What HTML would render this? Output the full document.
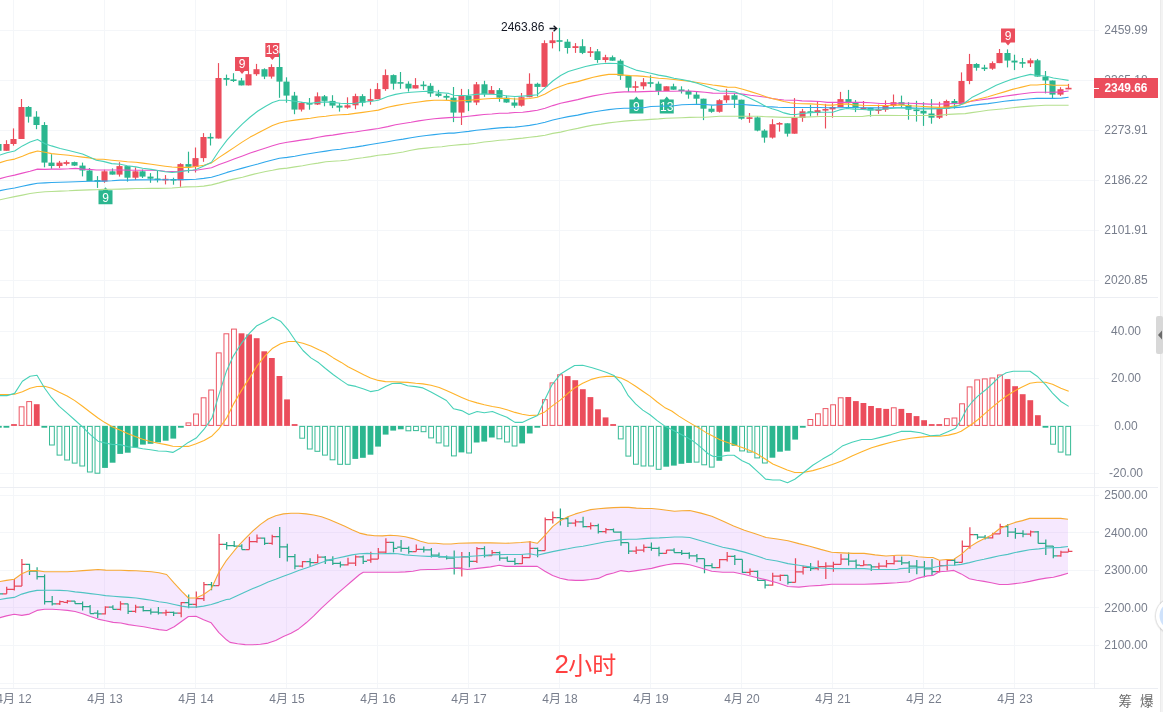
<!DOCTYPE html>
<html lang="zh"><head><meta charset="utf-8"><title>chart</title>
<style>html,body{margin:0;padding:0;background:#fff;overflow:hidden}body{width:1163px;height:712px}</style></head>
<body>
<svg width="1163" height="712" viewBox="0 0 1163 712" style="display:block">
<rect width="1163" height="712" fill="#fff"/>
<g shape-rendering="crispEdges" fill="#f4f6f9">
<rect x="13" y="0" width="1" height="688"/>
<rect x="104" y="0" width="1" height="688"/>
<rect x="195" y="0" width="1" height="688"/>
<rect x="286" y="0" width="1" height="688"/>
<rect x="377" y="0" width="1" height="688"/>
<rect x="468" y="0" width="1" height="688"/>
<rect x="559" y="0" width="1" height="688"/>
<rect x="650" y="0" width="1" height="688"/>
<rect x="741" y="0" width="1" height="688"/>
<rect x="832" y="0" width="1" height="688"/>
<rect x="923" y="0" width="1" height="688"/>
<rect x="1014" y="0" width="1" height="688"/>
<rect x="0" y="30" width="1099" height="1"/>
<rect x="0" y="80" width="1099" height="1"/>
<rect x="0" y="130" width="1099" height="1"/>
<rect x="0" y="180" width="1099" height="1"/>
<rect x="0" y="230" width="1099" height="1"/>
<rect x="0" y="280" width="1099" height="1"/>
<rect x="0" y="331" width="1099" height="1"/>
<rect x="0" y="378" width="1099" height="1"/>
<rect x="0" y="425" width="1099" height="1"/>
<rect x="0" y="473" width="1099" height="1"/>
<rect x="0" y="495" width="1099" height="1"/>
<rect x="0" y="532" width="1099" height="1"/>
<rect x="0" y="570" width="1099" height="1"/>
<rect x="0" y="607" width="1099" height="1"/>
<rect x="0" y="645" width="1099" height="1"/>
<rect x="0" y="683" width="1099" height="1"/>
</g>
<clipPath id="cp"><rect x="0" y="0" width="1094" height="688"/></clipPath>
<g clip-path="url(#cp)">
<polygon points="-2.0,582.0 0.0,581.5 6.5,580.4 14.2,579.3 21.8,573.8 29.4,570.6 37.0,570.6 44.6,571.7 52.3,571.7 59.9,571.7 67.5,571.7 75.1,571.2 82.8,570.6 90.4,570.1 98.0,569.5 105.6,570.1 113.2,570.3 120.9,570.3 128.5,570.6 136.1,570.8 143.7,571.2 151.4,571.7 159.0,572.7 166.6,574.5 174.2,583.2 181.8,591.3 188.4,598.0 196.0,598.0 203.6,594.5 211.2,589.1 218.9,572.3 226.5,560.3 230.0,556.0 237.6,546.6 245.2,538.6 252.9,530.9 260.5,524.4 268.1,519.0 275.7,515.7 283.4,513.9 291.0,513.3 298.6,513.3 306.2,513.9 313.8,515.0 321.5,516.8 329.1,519.4 336.7,522.7 344.3,526.1 352.0,529.8 359.6,533.1 367.2,534.9 374.8,535.7 382.4,535.9 390.1,535.3 397.7,535.7 405.3,536.8 412.9,538.6 420.5,541.2 428.2,543.3 435.8,543.3 443.4,544.0 451.0,544.0 458.7,543.3 475.2,542.9 490.5,542.9 505.7,543.3 521.0,542.5 529.7,541.8 537.3,543.3 544.9,535.3 552.6,526.6 560.2,520.7 567.8,516.8 575.4,513.9 583.0,511.8 590.7,509.6 598.3,508.7 605.9,508.1 613.5,507.6 621.1,507.4 628.8,507.4 636.4,508.1 644.0,508.5 651.6,508.5 659.3,509.2 666.9,510.2 674.5,511.3 682.1,510.7 689.7,510.5 700.9,513.1 711.8,516.3 722.7,521.1 733.6,525.9 744.4,530.3 755.3,533.8 766.2,537.5 777.1,539.0 788.0,540.7 798.9,543.6 809.8,546.2 820.7,549.4 831.6,552.3 842.4,552.9 853.3,553.4 864.2,553.4 875.1,554.9 886.0,556.0 896.9,555.3 909.1,555.3 918.3,556.7 927.4,557.5 932.9,557.5 939.3,560.2 946.6,559.5 953.9,559.3 961.2,554.4 969.4,547.1 976.7,542.5 984.0,538.8 991.3,535.2 999.5,528.8 1007.8,525.1 1015.1,522.4 1022.4,520.6 1029.7,518.4 1038.8,518.4 1060.7,518.4 1068.0,519.3 1068.0,573.2 1060.7,575.4 1053.4,577.2 1046.1,578.1 1038.8,579.4 1029.7,581.4 1022.4,582.7 1015.1,583.6 1007.8,584.5 999.5,584.5 991.3,582.7 984.0,581.4 976.7,580.3 969.4,578.7 961.2,573.9 953.9,570.4 946.6,571.3 939.3,571.7 932.9,575.4 927.4,575.9 918.3,578.1 909.1,581.8 896.9,582.8 886.0,583.4 875.1,583.9 864.2,584.3 831.6,584.3 820.7,585.4 809.8,586.0 798.9,587.1 788.0,586.5 777.1,582.8 766.2,579.9 755.3,577.3 744.4,574.5 733.6,572.3 722.7,572.3 711.8,571.2 700.9,568.0 689.7,564.8 682.1,563.6 674.5,563.6 666.9,564.7 659.3,566.4 651.6,568.4 644.0,569.5 636.4,570.6 628.8,571.7 621.1,570.6 613.5,573.0 605.9,574.9 598.3,578.4 590.7,579.5 583.0,580.4 575.4,580.4 567.8,579.9 560.2,578.2 552.6,575.6 544.9,571.2 537.3,566.4 505.7,566.4 499.2,565.3 490.5,566.9 475.2,568.6 467.6,569.5 458.7,568.4 451.0,568.4 443.4,569.0 435.8,569.5 428.2,569.5 420.5,569.7 412.9,571.2 405.3,571.9 397.7,572.3 374.8,572.3 363.3,572.3 359.6,574.5 352.0,581.0 344.3,587.6 336.7,594.1 329.1,601.1 321.5,608.2 313.8,615.9 306.2,622.8 298.6,628.9 291.0,633.3 283.4,636.6 275.7,640.5 268.1,643.1 260.5,644.2 252.9,644.8 245.2,644.6 237.6,643.7 230.0,642.4 226.5,639.8 218.9,632.6 211.2,622.8 203.6,619.8 196.0,616.3 188.4,616.5 181.8,621.3 174.2,626.8 166.6,630.5 159.0,629.6 151.4,628.3 143.7,626.8 136.1,625.7 128.5,624.6 120.9,623.0 113.2,622.4 105.6,620.7 98.0,619.1 90.4,616.5 82.8,613.7 75.1,611.5 67.5,610.4 59.9,609.8 52.3,609.3 44.6,609.3 37.0,610.4 29.4,614.1 21.8,615.4 14.2,614.3 6.5,615.9 0.0,617.6 -2.0,618.0" fill="#d28cfa" fill-opacity="0.2"/>
<g font-family="'Liberation Sans',sans-serif">
<path d="M98.5104,204.2h14v-14h-4.5l-2.5,-3l-2.5,3h-4.5z" fill="#2bb68f"/>
<text x="105.5104" y="201.5" font-size="12.5" fill="#fff" text-anchor="middle" textLength="6.7" lengthAdjust="spacingAndGlyphs">9</text>
<path d="M235.026,57h14v14h-4.5l-2.5,3l-2.5,-3h-4.5z" fill="#eb4d5c"/>
<text x="242.026" y="68.3" font-size="12.5" fill="#fff" text-anchor="middle" textLength="6.7" lengthAdjust="spacingAndGlyphs">9</text>
<path d="M265.3628,43h14v14h-4.5l-2.5,3l-2.5,-3h-4.5z" fill="#eb4d5c"/>
<text x="272.3628" y="54.3" font-size="12.5" fill="#fff" text-anchor="middle" textLength="13.4" lengthAdjust="spacingAndGlyphs">13</text>
<path d="M629.4044,113.6h14v-14h-4.5l-2.5,-3l-2.5,3h-4.5z" fill="#2bb68f"/>
<text x="636.4044" y="110.9" font-size="12.5" fill="#fff" text-anchor="middle" textLength="6.7" lengthAdjust="spacingAndGlyphs">9</text>
<path d="M659.7412,113.6h14v-14h-4.5l-2.5,-3l-2.5,3h-4.5z" fill="#2bb68f"/>
<text x="666.7412" y="110.9" font-size="12.5" fill="#fff" text-anchor="middle" textLength="13.4" lengthAdjust="spacingAndGlyphs">13</text>
<path d="M1001.0302,28.5h14v14h-4.5l-2.5,3l-2.5,-3h-4.5z" fill="#eb4d5c"/>
<text x="1008.0302" y="39.8" font-size="12.5" fill="#fff" text-anchor="middle" textLength="6.7" lengthAdjust="spacingAndGlyphs">9</text>
</g>
<g>
<rect x="-2.08" y="143.0" width="1.16" height="9.0" fill="#2bb68f"/>
<rect x="-4.55" y="144.0" width="6.1" height="6.8" fill="#2bb68f"/>
<rect x="5.92" y="140.2" width="1.16" height="10.6" fill="#eb4d5c"/>
<rect x="3.45" y="144.0" width="6.1" height="6.8" fill="#eb4d5c"/>
<rect x="12.92" y="128.4" width="1.16" height="17.3" fill="#eb4d5c"/>
<rect x="10.45" y="139.0" width="6.1" height="5.0" fill="#eb4d5c"/>
<rect x="20.92" y="99.0" width="1.16" height="40.0" fill="#eb4d5c"/>
<rect x="18.45" y="107.0" width="6.1" height="32.0" fill="#eb4d5c"/>
<rect x="27.92" y="106.1" width="1.16" height="16.5" fill="#2bb68f"/>
<rect x="25.45" y="107.0" width="6.1" height="9.7" fill="#2bb68f"/>
<rect x="35.92" y="111.2" width="1.16" height="18.0" fill="#2bb68f"/>
<rect x="33.45" y="116.7" width="6.1" height="8.3" fill="#2bb68f"/>
<rect x="43.92" y="122.1" width="1.16" height="45.2" fill="#2bb68f"/>
<rect x="41.45" y="125.0" width="6.1" height="37.6" fill="#2bb68f"/>
<rect x="50.92" y="154.2" width="1.16" height="14.6" fill="#2bb68f"/>
<rect x="48.45" y="162.6" width="6.1" height="3.4" fill="#2bb68f"/>
<rect x="58.92" y="160.9" width="1.16" height="7.1" fill="#eb4d5c"/>
<rect x="56.45" y="162.6" width="6.1" height="3.4" fill="#eb4d5c"/>
<rect x="65.92" y="160.4" width="1.16" height="5.1" fill="#eb4d5c"/>
<rect x="63.45" y="162.1" width="6.1" height="1.8" fill="#eb4d5c"/>
<rect x="73.92" y="161.6" width="1.16" height="4.4" fill="#2bb68f"/>
<rect x="71.45" y="162.1" width="6.1" height="3.5" fill="#2bb68f"/>
<rect x="81.92" y="162.6" width="1.16" height="13.8" fill="#2bb68f"/>
<rect x="79.45" y="165.6" width="6.1" height="4.9" fill="#2bb68f"/>
<rect x="88.92" y="168.0" width="1.16" height="13.1" fill="#2bb68f"/>
<rect x="86.45" y="170.5" width="6.1" height="10.6" fill="#2bb68f"/>
<rect x="96.92" y="176.1" width="1.16" height="11.8" fill="#2bb68f"/>
<rect x="94.45" y="180.1" width="6.1" height="1.6" fill="#2bb68f"/>
<rect x="103.92" y="169.7" width="1.16" height="13.1" fill="#eb4d5c"/>
<rect x="101.45" y="171.3" width="6.1" height="10.2" fill="#eb4d5c"/>
<rect x="111.92" y="168.4" width="1.16" height="6.2" fill="#2bb68f"/>
<rect x="109.45" y="171.3" width="6.1" height="3.3" fill="#2bb68f"/>
<rect x="118.92" y="162.2" width="1.16" height="14.4" fill="#eb4d5c"/>
<rect x="116.45" y="166.1" width="6.1" height="8.5" fill="#eb4d5c"/>
<rect x="126.92" y="166.1" width="1.16" height="15.5" fill="#2bb68f"/>
<rect x="124.45" y="166.1" width="6.1" height="11.6" fill="#2bb68f"/>
<rect x="134.92" y="167.4" width="1.16" height="12.6" fill="#eb4d5c"/>
<rect x="132.45" y="171.3" width="6.1" height="6.4" fill="#eb4d5c"/>
<rect x="141.92" y="169.4" width="1.16" height="8.6" fill="#2bb68f"/>
<rect x="139.45" y="171.3" width="6.1" height="5.3" fill="#2bb68f"/>
<rect x="149.92" y="173.1" width="1.16" height="9.7" fill="#2bb68f"/>
<rect x="147.45" y="176.6" width="6.1" height="2.1" fill="#2bb68f"/>
<rect x="156.92" y="170.8" width="1.16" height="11.6" fill="#2bb68f"/>
<rect x="154.45" y="178.5" width="6.1" height="1.6" fill="#2bb68f"/>
<rect x="164.92" y="175.1" width="1.16" height="9.3" fill="#eb4d5c"/>
<rect x="162.45" y="178.8" width="6.1" height="1.6" fill="#eb4d5c"/>
<rect x="172.92" y="177.7" width="1.16" height="7.0" fill="#2bb68f"/>
<rect x="170.45" y="179.0" width="6.1" height="1.6" fill="#2bb68f"/>
<rect x="179.92" y="163.2" width="1.16" height="23.6" fill="#eb4d5c"/>
<rect x="177.45" y="164.1" width="6.1" height="16.2" fill="#eb4d5c"/>
<rect x="187.92" y="151.7" width="1.16" height="21.1" fill="#2bb68f"/>
<rect x="185.45" y="164.1" width="6.1" height="2.7" fill="#2bb68f"/>
<rect x="194.92" y="147.5" width="1.16" height="25.0" fill="#eb4d5c"/>
<rect x="192.45" y="158.1" width="6.1" height="8.7" fill="#eb4d5c"/>
<rect x="202.92" y="133.1" width="1.16" height="28.7" fill="#eb4d5c"/>
<rect x="200.45" y="137.0" width="6.1" height="21.1" fill="#eb4d5c"/>
<rect x="209.92" y="133.2" width="1.16" height="12.3" fill="#2bb68f"/>
<rect x="207.45" y="136.9" width="6.1" height="1.6" fill="#2bb68f"/>
<rect x="217.92" y="63.1" width="1.16" height="75.4" fill="#eb4d5c"/>
<rect x="215.45" y="78.0" width="6.1" height="60.5" fill="#eb4d5c"/>
<rect x="225.92" y="74.6" width="1.16" height="11.1" fill="#2bb68f"/>
<rect x="223.45" y="78.0" width="6.1" height="1.8" fill="#2bb68f"/>
<rect x="232.92" y="73.2" width="1.16" height="8.8" fill="#2bb68f"/>
<rect x="230.45" y="79.4" width="6.1" height="1.6" fill="#2bb68f"/>
<rect x="240.92" y="77.9" width="1.16" height="7.5" fill="#2bb68f"/>
<rect x="238.45" y="80.5" width="6.1" height="4.9" fill="#2bb68f"/>
<rect x="247.92" y="67.3" width="1.16" height="18.1" fill="#eb4d5c"/>
<rect x="245.45" y="74.2" width="6.1" height="11.2" fill="#eb4d5c"/>
<rect x="255.92" y="63.9" width="1.16" height="11.9" fill="#eb4d5c"/>
<rect x="253.45" y="69.2" width="6.1" height="5.0" fill="#eb4d5c"/>
<rect x="263.92" y="68.3" width="1.16" height="10.8" fill="#2bb68f"/>
<rect x="261.45" y="69.2" width="6.1" height="7.4" fill="#2bb68f"/>
<rect x="270.92" y="64.3" width="1.16" height="14.3" fill="#eb4d5c"/>
<rect x="268.45" y="67.0" width="6.1" height="9.6" fill="#eb4d5c"/>
<rect x="278.92" y="53.3" width="1.16" height="44.5" fill="#2bb68f"/>
<rect x="276.45" y="67.0" width="6.1" height="14.6" fill="#2bb68f"/>
<rect x="285.92" y="77.3" width="1.16" height="25.4" fill="#2bb68f"/>
<rect x="283.45" y="81.6" width="6.1" height="14.0" fill="#2bb68f"/>
<rect x="293.92" y="91.9" width="1.16" height="22.3" fill="#2bb68f"/>
<rect x="291.45" y="95.6" width="6.1" height="14.0" fill="#2bb68f"/>
<rect x="300.92" y="102.0" width="1.16" height="9.5" fill="#eb4d5c"/>
<rect x="298.45" y="103.0" width="6.1" height="6.6" fill="#eb4d5c"/>
<rect x="308.92" y="98.0" width="1.16" height="11.7" fill="#2bb68f"/>
<rect x="306.45" y="103.0" width="6.1" height="1.6" fill="#2bb68f"/>
<rect x="316.92" y="92.4" width="1.16" height="12.6" fill="#eb4d5c"/>
<rect x="314.45" y="96.3" width="6.1" height="8.2" fill="#eb4d5c"/>
<rect x="323.92" y="95.0" width="1.16" height="11.3" fill="#2bb68f"/>
<rect x="321.45" y="96.3" width="6.1" height="4.6" fill="#2bb68f"/>
<rect x="331.92" y="95.2" width="1.16" height="12.9" fill="#2bb68f"/>
<rect x="329.45" y="100.9" width="6.1" height="4.7" fill="#2bb68f"/>
<rect x="338.92" y="103.0" width="1.16" height="8.6" fill="#2bb68f"/>
<rect x="336.45" y="105.6" width="6.1" height="2.0" fill="#2bb68f"/>
<rect x="346.92" y="97.3" width="1.16" height="11.4" fill="#eb4d5c"/>
<rect x="344.45" y="105.3" width="6.1" height="2.3" fill="#eb4d5c"/>
<rect x="354.92" y="93.7" width="1.16" height="15.5" fill="#eb4d5c"/>
<rect x="352.45" y="96.1" width="6.1" height="9.2" fill="#eb4d5c"/>
<rect x="361.92" y="94.2" width="1.16" height="12.2" fill="#2bb68f"/>
<rect x="359.45" y="96.1" width="6.1" height="6.6" fill="#2bb68f"/>
<rect x="369.92" y="88.8" width="1.16" height="15.9" fill="#eb4d5c"/>
<rect x="367.45" y="99.2" width="6.1" height="1.7" fill="#eb4d5c"/>
<rect x="376.92" y="83.1" width="1.16" height="16.1" fill="#eb4d5c"/>
<rect x="374.45" y="89.1" width="6.1" height="10.1" fill="#eb4d5c"/>
<rect x="384.92" y="69.4" width="1.16" height="21.4" fill="#eb4d5c"/>
<rect x="382.45" y="75.1" width="6.1" height="14.0" fill="#eb4d5c"/>
<rect x="392.92" y="74.4" width="1.16" height="15.2" fill="#2bb68f"/>
<rect x="390.45" y="75.1" width="6.1" height="8.6" fill="#2bb68f"/>
<rect x="399.92" y="72.0" width="1.16" height="16.8" fill="#2bb68f"/>
<rect x="397.45" y="82.1" width="6.1" height="1.6" fill="#2bb68f"/>
<rect x="407.92" y="81.3" width="1.16" height="10.3" fill="#2bb68f"/>
<rect x="405.45" y="83.7" width="6.1" height="4.8" fill="#2bb68f"/>
<rect x="414.92" y="78.1" width="1.16" height="10.4" fill="#eb4d5c"/>
<rect x="412.45" y="85.1" width="6.1" height="3.4" fill="#eb4d5c"/>
<rect x="422.92" y="81.2" width="1.16" height="8.7" fill="#2bb68f"/>
<rect x="420.45" y="84.6" width="6.1" height="1.6" fill="#2bb68f"/>
<rect x="429.92" y="83.2" width="1.16" height="13.6" fill="#2bb68f"/>
<rect x="427.45" y="85.8" width="6.1" height="7.7" fill="#2bb68f"/>
<rect x="437.92" y="89.9" width="1.16" height="7.3" fill="#2bb68f"/>
<rect x="435.45" y="93.5" width="6.1" height="2.4" fill="#2bb68f"/>
<rect x="445.92" y="94.1" width="1.16" height="5.9" fill="#2bb68f"/>
<rect x="443.45" y="95.9" width="6.1" height="1.8" fill="#2bb68f"/>
<rect x="452.92" y="87.0" width="1.16" height="35.1" fill="#2bb68f"/>
<rect x="450.45" y="97.7" width="6.1" height="14.9" fill="#2bb68f"/>
<rect x="460.92" y="88.9" width="1.16" height="36.1" fill="#eb4d5c"/>
<rect x="458.45" y="95.9" width="6.1" height="16.7" fill="#eb4d5c"/>
<rect x="467.92" y="89.2" width="1.16" height="21.9" fill="#2bb68f"/>
<rect x="465.45" y="95.9" width="6.1" height="6.6" fill="#2bb68f"/>
<rect x="475.92" y="82.0" width="1.16" height="23.1" fill="#eb4d5c"/>
<rect x="473.45" y="84.3" width="6.1" height="18.2" fill="#eb4d5c"/>
<rect x="483.92" y="80.8" width="1.16" height="16.0" fill="#2bb68f"/>
<rect x="481.45" y="84.3" width="6.1" height="9.8" fill="#2bb68f"/>
<rect x="490.92" y="86.0" width="1.16" height="8.1" fill="#eb4d5c"/>
<rect x="488.45" y="90.1" width="6.1" height="4.0" fill="#eb4d5c"/>
<rect x="498.92" y="88.1" width="1.16" height="13.7" fill="#2bb68f"/>
<rect x="496.45" y="90.1" width="6.1" height="7.6" fill="#2bb68f"/>
<rect x="505.92" y="95.6" width="1.16" height="7.2" fill="#2bb68f"/>
<rect x="503.45" y="97.7" width="6.1" height="4.8" fill="#2bb68f"/>
<rect x="513.92" y="97.7" width="1.16" height="10.1" fill="#2bb68f"/>
<rect x="511.45" y="102.5" width="6.1" height="3.2" fill="#2bb68f"/>
<rect x="520.92" y="93.0" width="1.16" height="13.6" fill="#eb4d5c"/>
<rect x="518.45" y="97.2" width="6.1" height="8.5" fill="#eb4d5c"/>
<rect x="528.92" y="73.3" width="1.16" height="23.9" fill="#eb4d5c"/>
<rect x="526.45" y="83.8" width="6.1" height="13.4" fill="#eb4d5c"/>
<rect x="536.92" y="82.7" width="1.16" height="13.8" fill="#2bb68f"/>
<rect x="534.45" y="83.8" width="6.1" height="3.1" fill="#2bb68f"/>
<rect x="543.92" y="40.3" width="1.16" height="46.6" fill="#eb4d5c"/>
<rect x="541.45" y="43.1" width="6.1" height="43.8" fill="#eb4d5c"/>
<rect x="551.92" y="31.9" width="1.16" height="16.5" fill="#eb4d5c"/>
<rect x="549.45" y="40.3" width="6.1" height="2.8" fill="#eb4d5c"/>
<rect x="558.92" y="27.9" width="1.16" height="23.4" fill="#2bb68f"/>
<rect x="556.45" y="40.2" width="6.1" height="1.6" fill="#2bb68f"/>
<rect x="566.92" y="39.2" width="1.16" height="14.4" fill="#2bb68f"/>
<rect x="564.45" y="41.7" width="6.1" height="6.3" fill="#2bb68f"/>
<rect x="574.92" y="43.1" width="1.16" height="9.8" fill="#eb4d5c"/>
<rect x="572.45" y="46.2" width="6.1" height="1.8" fill="#eb4d5c"/>
<rect x="581.92" y="39.2" width="1.16" height="14.9" fill="#2bb68f"/>
<rect x="579.45" y="46.2" width="6.1" height="6.7" fill="#2bb68f"/>
<rect x="589.92" y="47.0" width="1.16" height="9.9" fill="#eb4d5c"/>
<rect x="587.45" y="51.3" width="6.1" height="1.6" fill="#eb4d5c"/>
<rect x="596.92" y="49.0" width="1.16" height="13.8" fill="#2bb68f"/>
<rect x="594.45" y="51.3" width="6.1" height="8.7" fill="#2bb68f"/>
<rect x="604.92" y="54.8" width="1.16" height="7.7" fill="#eb4d5c"/>
<rect x="602.45" y="57.2" width="6.1" height="2.8" fill="#eb4d5c"/>
<rect x="611.92" y="55.5" width="1.16" height="5.2" fill="#2bb68f"/>
<rect x="609.45" y="57.2" width="6.1" height="3.5" fill="#2bb68f"/>
<rect x="619.92" y="59.3" width="1.16" height="20.6" fill="#2bb68f"/>
<rect x="617.45" y="60.7" width="6.1" height="15.0" fill="#2bb68f"/>
<rect x="627.92" y="75.7" width="1.16" height="16.3" fill="#2bb68f"/>
<rect x="625.45" y="75.7" width="6.1" height="12.0" fill="#2bb68f"/>
<rect x="634.92" y="81.2" width="1.16" height="10.6" fill="#eb4d5c"/>
<rect x="632.45" y="86.2" width="6.1" height="1.6" fill="#eb4d5c"/>
<rect x="642.92" y="78.1" width="1.16" height="11.3" fill="#eb4d5c"/>
<rect x="640.45" y="82.2" width="6.1" height="4.1" fill="#eb4d5c"/>
<rect x="649.92" y="75.3" width="1.16" height="12.0" fill="#2bb68f"/>
<rect x="647.45" y="82.2" width="6.1" height="1.6" fill="#2bb68f"/>
<rect x="657.92" y="81.5" width="1.16" height="13.6" fill="#2bb68f"/>
<rect x="655.45" y="83.7" width="6.1" height="7.3" fill="#2bb68f"/>
<rect x="665.92" y="86.3" width="1.16" height="4.7" fill="#eb4d5c"/>
<rect x="663.45" y="86.3" width="6.1" height="4.7" fill="#eb4d5c"/>
<rect x="672.92" y="83.7" width="1.16" height="6.0" fill="#2bb68f"/>
<rect x="670.45" y="86.3" width="6.1" height="3.4" fill="#2bb68f"/>
<rect x="680.92" y="86.3" width="1.16" height="7.2" fill="#2bb68f"/>
<rect x="678.45" y="89.5" width="6.1" height="1.6" fill="#2bb68f"/>
<rect x="687.92" y="89.4" width="1.16" height="9.3" fill="#2bb68f"/>
<rect x="685.45" y="91.0" width="6.1" height="3.6" fill="#2bb68f"/>
<rect x="695.92" y="91.8" width="1.16" height="12.1" fill="#2bb68f"/>
<rect x="693.45" y="94.6" width="6.1" height="4.1" fill="#2bb68f"/>
<rect x="702.92" y="98.7" width="1.16" height="21.4" fill="#2bb68f"/>
<rect x="700.45" y="98.7" width="6.1" height="10.0" fill="#2bb68f"/>
<rect x="710.92" y="105.4" width="1.16" height="7.4" fill="#2bb68f"/>
<rect x="708.45" y="108.7" width="6.1" height="3.1" fill="#2bb68f"/>
<rect x="718.92" y="99.2" width="1.16" height="13.4" fill="#eb4d5c"/>
<rect x="716.45" y="100.2" width="6.1" height="11.6" fill="#eb4d5c"/>
<rect x="725.92" y="88.9" width="1.16" height="13.9" fill="#eb4d5c"/>
<rect x="723.45" y="95.3" width="6.1" height="4.9" fill="#eb4d5c"/>
<rect x="733.92" y="93.5" width="1.16" height="14.5" fill="#2bb68f"/>
<rect x="731.45" y="95.3" width="6.1" height="4.4" fill="#2bb68f"/>
<rect x="740.92" y="99.7" width="1.16" height="20.0" fill="#2bb68f"/>
<rect x="738.45" y="99.7" width="6.1" height="19.0" fill="#2bb68f"/>
<rect x="748.92" y="113.0" width="1.16" height="9.8" fill="#eb4d5c"/>
<rect x="746.45" y="117.3" width="6.1" height="1.6" fill="#eb4d5c"/>
<rect x="756.92" y="116.1" width="1.16" height="15.2" fill="#2bb68f"/>
<rect x="754.45" y="117.4" width="6.1" height="13.2" fill="#2bb68f"/>
<rect x="763.92" y="129.3" width="1.16" height="13.4" fill="#2bb68f"/>
<rect x="761.45" y="130.6" width="6.1" height="7.0" fill="#2bb68f"/>
<rect x="771.92" y="119.2" width="1.16" height="19.4" fill="#eb4d5c"/>
<rect x="769.45" y="124.2" width="6.1" height="13.4" fill="#eb4d5c"/>
<rect x="778.92" y="122.1" width="1.16" height="9.5" fill="#eb4d5c"/>
<rect x="776.45" y="123.0" width="6.1" height="1.6" fill="#eb4d5c"/>
<rect x="786.92" y="123.3" width="1.16" height="13.3" fill="#2bb68f"/>
<rect x="784.45" y="123.3" width="6.1" height="10.4" fill="#2bb68f"/>
<rect x="793.92" y="98.1" width="1.16" height="35.6" fill="#eb4d5c"/>
<rect x="791.45" y="118.0" width="6.1" height="15.7" fill="#eb4d5c"/>
<rect x="801.92" y="108.9" width="1.16" height="12.9" fill="#eb4d5c"/>
<rect x="799.45" y="111.3" width="6.1" height="6.7" fill="#eb4d5c"/>
<rect x="809.92" y="104.8" width="1.16" height="11.8" fill="#2bb68f"/>
<rect x="807.45" y="111.3" width="6.1" height="1.7" fill="#2bb68f"/>
<rect x="816.92" y="101.2" width="1.16" height="14.4" fill="#eb4d5c"/>
<rect x="814.45" y="110.2" width="6.1" height="2.8" fill="#eb4d5c"/>
<rect x="824.92" y="103.9" width="1.16" height="24.6" fill="#eb4d5c"/>
<rect x="822.45" y="109.0" width="6.1" height="1.6" fill="#eb4d5c"/>
<rect x="831.92" y="103.2" width="1.16" height="14.5" fill="#eb4d5c"/>
<rect x="829.45" y="107.0" width="6.1" height="2.4" fill="#eb4d5c"/>
<rect x="839.92" y="91.9" width="1.16" height="15.1" fill="#eb4d5c"/>
<rect x="837.45" y="99.1" width="6.1" height="7.9" fill="#eb4d5c"/>
<rect x="847.92" y="89.9" width="1.16" height="18.9" fill="#2bb68f"/>
<rect x="845.45" y="99.1" width="6.1" height="3.3" fill="#2bb68f"/>
<rect x="854.92" y="100.1" width="1.16" height="12.0" fill="#2bb68f"/>
<rect x="852.45" y="102.4" width="6.1" height="5.8" fill="#2bb68f"/>
<rect x="862.92" y="101.0" width="1.16" height="8.0" fill="#eb4d5c"/>
<rect x="860.45" y="107.5" width="6.1" height="1.6" fill="#eb4d5c"/>
<rect x="869.92" y="107.7" width="1.16" height="8.9" fill="#2bb68f"/>
<rect x="867.45" y="107.7" width="6.1" height="2.8" fill="#2bb68f"/>
<rect x="877.92" y="104.6" width="1.16" height="9.3" fill="#eb4d5c"/>
<rect x="875.45" y="109.3" width="6.1" height="1.6" fill="#eb4d5c"/>
<rect x="884.92" y="100.4" width="1.16" height="11.4" fill="#eb4d5c"/>
<rect x="882.45" y="105.9" width="6.1" height="3.8" fill="#eb4d5c"/>
<rect x="892.92" y="94.5" width="1.16" height="12.7" fill="#eb4d5c"/>
<rect x="890.45" y="102.2" width="6.1" height="3.7" fill="#eb4d5c"/>
<rect x="900.92" y="95.6" width="1.16" height="12.1" fill="#2bb68f"/>
<rect x="898.45" y="102.2" width="6.1" height="2.7" fill="#2bb68f"/>
<rect x="907.92" y="102.2" width="1.16" height="17.5" fill="#2bb68f"/>
<rect x="905.45" y="104.9" width="6.1" height="4.8" fill="#2bb68f"/>
<rect x="915.92" y="100.8" width="1.16" height="20.8" fill="#2bb68f"/>
<rect x="913.45" y="109.5" width="6.1" height="1.6" fill="#2bb68f"/>
<rect x="922.92" y="102.2" width="1.16" height="23.7" fill="#2bb68f"/>
<rect x="920.45" y="110.8" width="6.1" height="2.7" fill="#2bb68f"/>
<rect x="930.92" y="99.1" width="1.16" height="24.6" fill="#2bb68f"/>
<rect x="928.45" y="113.5" width="6.1" height="4.2" fill="#2bb68f"/>
<rect x="938.92" y="101.8" width="1.16" height="17.2" fill="#eb4d5c"/>
<rect x="936.45" y="109.0" width="6.1" height="8.7" fill="#eb4d5c"/>
<rect x="945.92" y="99.7" width="1.16" height="16.2" fill="#eb4d5c"/>
<rect x="943.45" y="101.0" width="6.1" height="8.0" fill="#eb4d5c"/>
<rect x="953.92" y="99.0" width="1.16" height="9.6" fill="#2bb68f"/>
<rect x="951.45" y="101.0" width="6.1" height="3.1" fill="#2bb68f"/>
<rect x="960.92" y="72.4" width="1.16" height="31.7" fill="#eb4d5c"/>
<rect x="958.45" y="81.0" width="6.1" height="23.1" fill="#eb4d5c"/>
<rect x="968.92" y="53.9" width="1.16" height="30.3" fill="#eb4d5c"/>
<rect x="966.45" y="64.0" width="6.1" height="17.0" fill="#eb4d5c"/>
<rect x="975.92" y="63.1" width="1.16" height="7.6" fill="#2bb68f"/>
<rect x="973.45" y="64.0" width="6.1" height="3.8" fill="#2bb68f"/>
<rect x="983.92" y="64.8" width="1.16" height="6.2" fill="#2bb68f"/>
<rect x="981.45" y="67.5" width="6.1" height="1.6" fill="#2bb68f"/>
<rect x="991.92" y="61.4" width="1.16" height="8.4" fill="#eb4d5c"/>
<rect x="989.45" y="63.1" width="6.1" height="5.6" fill="#eb4d5c"/>
<rect x="998.92" y="49.0" width="1.16" height="14.1" fill="#eb4d5c"/>
<rect x="996.45" y="53.0" width="6.1" height="10.1" fill="#eb4d5c"/>
<rect x="1006.92" y="49.4" width="1.16" height="18.0" fill="#2bb68f"/>
<rect x="1004.45" y="53.0" width="6.1" height="7.6" fill="#2bb68f"/>
<rect x="1013.92" y="54.7" width="1.16" height="15.4" fill="#2bb68f"/>
<rect x="1011.45" y="60.6" width="6.1" height="1.9" fill="#2bb68f"/>
<rect x="1021.92" y="58.0" width="1.16" height="9.8" fill="#2bb68f"/>
<rect x="1019.45" y="62.1" width="6.1" height="1.6" fill="#2bb68f"/>
<rect x="1029.92" y="58.4" width="1.16" height="8.6" fill="#eb4d5c"/>
<rect x="1027.45" y="60.3" width="6.1" height="3.0" fill="#eb4d5c"/>
<rect x="1036.92" y="58.9" width="1.16" height="17.7" fill="#2bb68f"/>
<rect x="1034.45" y="60.3" width="6.1" height="16.3" fill="#2bb68f"/>
<rect x="1044.92" y="71.0" width="1.16" height="22.4" fill="#2bb68f"/>
<rect x="1042.45" y="76.6" width="6.1" height="3.9" fill="#2bb68f"/>
<rect x="1051.92" y="80.5" width="1.16" height="17.6" fill="#2bb68f"/>
<rect x="1049.45" y="80.5" width="6.1" height="14.1" fill="#2bb68f"/>
<rect x="1059.92" y="87.2" width="1.16" height="8.7" fill="#eb4d5c"/>
<rect x="1057.45" y="89.2" width="6.1" height="5.4" fill="#eb4d5c"/>
<rect x="1067.92" y="83.9" width="1.16" height="5.3" fill="#eb4d5c"/>
<rect x="1065.45" y="87.8" width="6.1" height="1.6" fill="#eb4d5c"/>
</g>
<polyline points="-2.0,200.1 0.0,199.7 6.9,198.3 14.6,196.6 22.4,195.1 30.1,193.5 37.5,192.5 45.1,191.8 51.6,191.5 60.2,191.1 68.8,190.8 75.7,190.4 82.5,190.1 89.4,189.9 96.3,189.7 103.2,189.4 111.8,189.2 120.4,189.1 127.0,188.9 136.0,188.5 143.0,188.5 151.0,188.4 158.0,188.4 165.0,188.2 172.0,188.0 178.8,187.5 185.7,186.9 196.0,186.7 203.8,186.1 211.5,184.9 219.2,182.9 227.0,180.6 234.7,178.9 242.5,177.2 250.2,175.1 257.9,173.2 265.7,171.5 272.5,170.3 279.4,168.9 287.2,168.1 294.9,166.9 302.6,165.7 310.4,164.3 318.1,163.1 325.9,161.7 332.7,161.2 340.5,160.8 348.2,160.0 355.1,158.8 362.8,157.8 370.6,156.6 378.3,155.2 387.7,154.4 395.5,153.2 403.2,152.0 411.0,150.3 418.7,148.9 426.4,148.1 434.2,147.2 441.9,146.7 448.8,145.8 453.9,145.3 460.8,144.6 468.6,144.1 476.3,143.2 484.0,142.0 491.8,141.2 499.5,140.3 507.3,139.8 515.0,138.9 522.7,138.1 529.6,137.2 537.4,136.4 545.1,135.2 552.8,133.4 560.6,132.1 568.3,130.3 577.7,128.4 585.5,126.6 593.2,125.1 601.0,124.1 608.7,122.9 616.4,122.0 624.2,121.1 630.2,120.6 637.1,120.3 643.9,119.9 650.8,119.4 658.6,118.9 666.3,118.2 674.0,118.0 681.8,117.7 689.5,117.4 697.3,117.2 705.0,117.2 712.7,116.8 719.6,116.3 758.3,116.3 766.0,116.7 772.0,116.9 784.0,117.4 796.0,117.4 802.0,117.1 810.6,116.9 820.2,116.5 862.3,116.5 868.3,115.6 880.4,115.3 899.8,115.5 929.2,115.5 939.0,115.2 948.8,114.4 958.6,113.9 965.2,113.6 971.7,112.6 979.9,111.5 988.0,110.3 996.2,109.5 1004.4,108.7 1012.5,107.7 1020.7,106.9 1030.5,106.1 1037.0,105.7 1045.2,105.3 1068.6,105.3" fill="none" stroke="#b5e08f" stroke-width="1.1" stroke-linejoin="round"/>
<polyline points="-2.0,191.0 0.0,190.6 6.9,189.2 14.6,188.0 22.4,186.3 30.1,184.6 37.5,183.2 45.1,182.9 51.6,182.5 60.2,182.3 68.8,182.0 75.7,181.7 82.5,181.5 89.4,181.3 96.3,181.1 103.2,181.1 111.8,180.8 120.4,180.1 127.0,180.1 136.0,179.9 172.0,179.8 178.8,179.8 185.7,179.6 196.0,179.3 203.8,178.4 211.5,177.2 219.2,175.0 227.0,172.4 234.7,170.3 242.5,168.1 250.2,166.0 257.9,164.0 265.7,161.7 272.5,160.0 279.4,158.3 287.2,157.4 294.9,156.2 302.6,154.8 310.4,153.5 318.1,152.3 325.9,151.1 332.7,150.0 340.5,149.2 348.2,148.0 355.1,147.1 362.8,145.9 370.6,144.5 378.3,143.3 387.7,141.7 395.5,140.3 403.2,139.1 411.0,137.7 418.7,136.5 426.4,135.5 434.2,134.6 441.9,133.8 448.8,133.1 453.9,133.1 460.8,132.2 468.6,131.4 476.3,130.3 484.0,129.5 491.8,128.6 499.5,127.9 507.3,127.4 515.0,127.1 522.7,126.2 529.6,125.4 537.4,124.0 545.1,122.3 552.8,120.0 560.6,118.3 568.3,116.6 577.7,115.1 585.5,113.4 593.2,112.0 601.0,110.8 608.7,109.6 616.4,108.8 624.2,108.2 630.2,108.2 637.1,107.9 643.9,107.7 650.8,106.5 658.6,106.2 666.3,106.0 674.0,105.7 681.8,104.8 689.5,104.5 697.3,104.3 705.0,104.5 712.7,105.1 719.6,104.8 727.4,104.3 735.1,104.3 742.8,104.5 750.6,105.1 758.3,105.7 766.0,106.5 772.0,106.9 778.0,107.3 784.0,107.5 790.0,107.5 810.6,107.5 820.2,107.5 827.4,107.7 839.5,107.7 846.7,107.5 853.9,107.5 862.3,107.7 870.8,107.9 880.4,107.9 887.6,107.7 899.8,107.7 909.6,107.9 919.4,108.2 939.0,108.2 948.8,107.9 958.6,107.4 965.2,106.6 971.7,105.4 979.9,104.4 988.0,103.6 996.2,102.5 1004.4,101.3 1012.5,100.4 1020.7,99.7 1030.5,98.7 1037.0,98.4 1053.4,98.4 1061.5,98.1 1068.6,97.2" fill="none" stroke="#2fa8ec" stroke-width="1.1" stroke-linejoin="round"/>
<polyline points="-2.0,179.2 0.0,178.6 6.9,176.8 14.6,175.1 22.4,173.1 30.1,171.2 37.5,169.1 45.1,169.4 51.6,169.1 60.2,169.1 68.8,168.8 75.7,168.4 82.5,169.1 89.4,169.4 96.3,170.0 103.2,170.0 120.0,170.0 135.0,170.2 151.0,170.3 158.0,170.5 165.0,171.2 172.0,171.5 178.8,171.3 185.7,170.8 196.0,170.3 203.8,169.0 211.5,167.7 219.2,164.6 227.0,161.7 234.7,158.8 242.5,156.0 250.2,153.1 257.9,150.5 265.7,148.0 272.5,145.7 279.4,143.7 287.2,142.3 294.9,141.1 302.6,139.9 310.4,138.9 318.1,137.3 325.9,135.9 332.7,135.1 340.5,133.9 348.2,132.8 355.1,132.0 362.8,130.8 370.6,129.6 378.3,128.5 387.7,126.6 395.5,124.8 403.2,123.5 411.0,122.3 418.7,120.9 426.4,119.7 434.2,118.8 441.9,118.1 448.8,117.6 453.9,117.4 460.8,117.1 468.6,116.2 476.3,115.4 484.0,114.5 491.8,114.0 499.5,113.3 507.3,113.2 515.0,112.5 522.7,112.3 529.6,111.4 537.4,110.2 545.1,108.2 552.8,105.6 560.6,103.3 568.3,101.6 577.7,99.6 585.5,97.6 593.2,95.9 601.0,94.5 608.7,93.3 616.4,92.4 624.2,91.9 630.2,91.9 637.1,91.9 643.9,91.6 650.8,91.4 658.6,91.2 666.3,91.2 674.0,91.2 681.8,91.0 689.5,91.0 697.3,91.6 705.0,92.3 712.7,93.1 719.6,93.3 727.4,93.3 735.1,93.3 742.8,94.1 750.6,95.3 758.3,96.2 766.0,97.3 772.0,98.5 778.0,99.4 784.0,100.0 790.0,100.3 796.0,100.3 802.0,100.9 810.6,101.1 820.2,101.5 827.4,102.4 833.4,102.4 839.5,102.4 846.7,102.4 853.9,102.4 862.3,102.4 870.8,102.7 880.4,103.5 887.6,103.5 899.8,103.3 909.6,103.3 919.4,103.6 929.2,104.1 939.0,104.1 948.8,103.8 958.6,103.3 965.2,102.5 971.7,101.2 979.9,100.0 988.0,98.9 996.2,97.6 1004.4,96.3 1012.5,95.1 1020.7,94.0 1030.5,92.7 1037.0,92.3 1045.2,92.3 1053.4,92.3 1061.5,91.9 1068.6,91.0" fill="none" stroke="#ea52c6" stroke-width="1.1" stroke-linejoin="round"/>
<polyline points="-2.0,163.2 0.0,162.6 6.9,160.5 14.6,159.1 22.4,156.2 30.1,153.1 37.5,151.0 45.1,152.3 51.6,153.6 60.2,154.5 68.8,155.3 75.7,156.2 82.5,157.1 89.4,157.9 96.3,159.3 103.2,159.3 111.8,160.2 120.4,161.0 127.3,161.7 135.9,162.2 142.7,163.1 151.3,164.3 158.2,165.3 165.1,166.2 172.0,167.0 178.8,167.4 185.7,167.4 190.0,167.4 196.0,166.5 203.8,165.2 211.5,162.9 219.2,157.4 227.0,152.3 234.7,147.1 242.5,141.9 250.2,137.1 257.9,133.0 265.7,129.0 272.5,125.6 279.4,123.0 287.2,121.3 294.9,120.1 302.6,119.1 310.4,118.2 318.1,117.0 325.9,116.2 332.7,115.3 340.5,114.8 348.2,114.4 355.1,113.4 362.8,112.4 370.6,111.3 378.3,110.1 387.7,107.3 395.5,105.6 403.2,104.2 411.0,103.0 418.7,102.0 426.4,100.9 434.2,100.3 441.9,100.3 448.8,100.4 453.9,101.1 460.8,100.8 468.6,100.3 476.3,99.6 484.0,99.0 491.8,98.5 499.5,98.2 507.3,98.5 515.0,99.0 522.7,99.0 529.6,98.5 537.4,97.3 545.1,93.9 552.8,89.6 560.6,86.2 568.3,83.6 577.7,81.6 585.5,79.4 593.2,77.3 601.0,75.6 608.7,74.4 616.4,74.4 624.2,75.1 630.2,75.6 637.1,75.9 643.9,76.4 650.8,77.3 658.6,78.2 666.3,78.7 674.0,79.5 681.8,80.4 689.5,81.2 697.3,82.5 705.0,83.8 712.7,85.0 719.6,85.9 727.4,87.1 735.1,87.3 742.8,89.3 750.6,91.6 758.3,94.0 766.0,96.7 772.0,98.5 778.0,99.9 784.0,101.5 790.0,102.7 796.0,103.5 802.0,103.7 810.6,103.9 820.2,104.5 827.4,105.1 833.4,105.1 839.5,104.3 846.7,103.9 853.9,104.9 862.3,105.3 870.8,105.5 880.4,105.5 887.6,105.5 899.8,104.9 909.6,105.7 919.4,106.2 929.2,106.9 939.0,107.4 948.8,106.9 958.6,105.3 965.2,103.3 971.7,100.8 979.9,98.7 988.0,96.8 996.2,94.3 1004.4,91.9 1012.5,89.4 1020.7,87.4 1030.5,85.0 1037.0,85.0 1045.2,84.2 1053.4,85.3 1061.5,85.3 1068.6,85.3" fill="none" stroke="#ffb32a" stroke-width="1.1" stroke-linejoin="round"/>
<polyline points="-2.0,155.6 0.0,155.0 6.9,152.8 14.6,151.0 22.4,145.9 30.1,142.1 37.5,139.4 45.1,143.7 51.6,145.9 60.2,148.5 68.8,150.5 75.7,152.3 82.5,154.0 89.4,157.1 96.3,160.2 103.2,161.4 111.8,163.6 120.4,164.3 127.3,165.7 135.9,166.9 142.7,168.2 151.3,169.4 158.2,170.5 165.1,171.7 172.0,172.5 178.8,171.9 185.7,170.8 192.6,170.0 196.0,169.5 203.8,166.0 211.5,162.2 219.2,150.5 227.0,140.2 234.7,131.6 242.5,123.9 250.2,117.0 257.9,111.0 265.7,106.2 272.5,102.4 279.4,100.2 287.2,100.2 294.9,101.2 302.6,102.4 310.4,103.3 318.1,102.4 325.9,101.9 332.7,102.4 340.5,103.3 348.2,103.6 355.1,103.3 362.8,102.0 370.6,101.5 378.3,100.2 387.7,96.5 395.5,94.4 403.2,93.0 411.0,92.2 418.7,91.7 426.4,91.3 434.2,91.8 441.9,92.7 448.8,93.4 453.9,95.3 460.8,95.6 468.6,95.3 476.3,94.4 484.0,93.9 491.8,94.2 499.5,94.7 507.3,96.0 515.0,96.5 522.7,96.1 529.6,95.6 537.4,94.7 545.1,87.9 552.8,81.0 560.6,75.5 568.3,71.5 577.7,68.7 585.5,66.5 593.2,64.9 601.0,63.7 608.7,63.2 616.4,63.5 624.2,65.3 630.2,67.8 637.1,70.4 643.9,71.8 650.8,73.3 658.6,75.1 666.3,76.4 674.0,78.2 681.8,79.5 689.5,81.1 697.3,83.3 705.0,85.9 712.7,88.8 719.6,91.0 727.4,91.2 735.1,91.9 742.8,95.0 750.6,98.4 758.3,102.2 766.0,106.5 772.0,108.7 778.0,110.5 784.0,112.9 790.0,114.4 796.0,114.5 802.0,113.5 810.6,112.6 820.2,112.3 827.4,112.3 833.4,112.1 839.5,109.9 846.7,108.5 853.9,109.1 862.3,109.5 870.8,109.9 880.4,109.7 887.6,108.7 899.8,107.7 909.6,108.5 919.4,109.0 929.2,109.0 939.0,108.7 948.8,108.2 958.6,105.7 965.2,102.5 971.7,97.6 979.9,93.5 988.0,89.4 996.2,85.3 1004.4,82.1 1012.5,79.1 1020.7,76.8 1030.5,74.4 1037.0,75.5 1045.2,76.0 1053.4,78.0 1061.5,79.3 1068.6,80.4" fill="none" stroke="#48d1b8" stroke-width="1.1" stroke-linejoin="round"/>
<g>
<rect x="-4.07" y="425.9" width="5.8" height="1.8" fill="#2bb68f"/>
<rect x="3.52" y="425.9" width="5.8" height="1.8" fill="#2bb68f"/>
<rect x="11.10" y="424.1" width="5.8" height="1.8" fill="#eb4d5c"/>
<rect x="19.18" y="406.8" width="4.8" height="18.6" fill="#fff" fill-opacity="0.5" stroke="#eb4d5c" stroke-width="1" stroke-opacity="0.95"/>
<rect x="26.77" y="401.6" width="4.8" height="23.8" fill="#fff" fill-opacity="0.5" stroke="#eb4d5c" stroke-width="1" stroke-opacity="0.95"/>
<rect x="33.85" y="404.2" width="5.8" height="21.7" fill="#eb4d5c"/>
<rect x="41.44" y="425.9" width="5.8" height="1.8" fill="#2bb68f"/>
<rect x="49.52" y="426.4" width="4.8" height="18.6" fill="#fff" fill-opacity="0.5" stroke="#2bb68f" stroke-width="1" stroke-opacity="0.95"/>
<rect x="57.11" y="426.4" width="4.8" height="28.7" fill="#fff" fill-opacity="0.5" stroke="#2bb68f" stroke-width="1" stroke-opacity="0.95"/>
<rect x="64.69" y="426.4" width="4.8" height="33.6" fill="#fff" fill-opacity="0.5" stroke="#2bb68f" stroke-width="1" stroke-opacity="0.95"/>
<rect x="72.27" y="426.4" width="4.8" height="36.7" fill="#fff" fill-opacity="0.5" stroke="#2bb68f" stroke-width="1" stroke-opacity="0.95"/>
<rect x="79.86" y="426.4" width="4.8" height="39.6" fill="#fff" fill-opacity="0.5" stroke="#2bb68f" stroke-width="1" stroke-opacity="0.95"/>
<rect x="87.44" y="426.4" width="4.8" height="45.6" fill="#fff" fill-opacity="0.5" stroke="#2bb68f" stroke-width="1" stroke-opacity="0.95"/>
<rect x="95.03" y="426.4" width="4.8" height="46.8" fill="#fff" fill-opacity="0.5" stroke="#2bb68f" stroke-width="1" stroke-opacity="0.95"/>
<rect x="102.11" y="425.9" width="5.8" height="42.0" fill="#2bb68f"/>
<rect x="109.69" y="425.9" width="5.8" height="36.8" fill="#2bb68f"/>
<rect x="117.28" y="425.9" width="5.8" height="28.0" fill="#2bb68f"/>
<rect x="124.86" y="425.9" width="5.8" height="26.8" fill="#2bb68f"/>
<rect x="132.45" y="425.9" width="5.8" height="21.7" fill="#2bb68f"/>
<rect x="140.03" y="425.9" width="5.8" height="18.7" fill="#2bb68f"/>
<rect x="147.62" y="425.9" width="5.8" height="17.9" fill="#2bb68f"/>
<rect x="155.20" y="425.9" width="5.8" height="16.5" fill="#2bb68f"/>
<rect x="162.78" y="425.9" width="5.8" height="14.8" fill="#2bb68f"/>
<rect x="170.37" y="425.9" width="5.8" height="12.7" fill="#2bb68f"/>
<rect x="177.95" y="425.9" width="5.8" height="1.8" fill="#2bb68f"/>
<rect x="186.04" y="422.9" width="4.8" height="2.5" fill="#fff" fill-opacity="0.5" stroke="#eb4d5c" stroke-width="1" stroke-opacity="0.95"/>
<rect x="193.62" y="414.0" width="4.8" height="11.4" fill="#fff" fill-opacity="0.5" stroke="#eb4d5c" stroke-width="1" stroke-opacity="0.95"/>
<rect x="201.20" y="397.8" width="4.8" height="27.6" fill="#fff" fill-opacity="0.5" stroke="#eb4d5c" stroke-width="1" stroke-opacity="0.95"/>
<rect x="208.79" y="390.0" width="4.8" height="35.4" fill="#fff" fill-opacity="0.5" stroke="#eb4d5c" stroke-width="1" stroke-opacity="0.95"/>
<rect x="216.37" y="352.9" width="4.8" height="72.5" fill="#fff" fill-opacity="0.5" stroke="#eb4d5c" stroke-width="1" stroke-opacity="0.95"/>
<rect x="223.96" y="333.8" width="4.8" height="91.6" fill="#fff" fill-opacity="0.5" stroke="#eb4d5c" stroke-width="1" stroke-opacity="0.95"/>
<rect x="231.54" y="329.1" width="4.8" height="96.3" fill="#fff" fill-opacity="0.5" stroke="#eb4d5c" stroke-width="1" stroke-opacity="0.95"/>
<rect x="238.63" y="333.3" width="5.8" height="92.6" fill="#eb4d5c"/>
<rect x="246.21" y="334.4" width="5.8" height="91.5" fill="#eb4d5c"/>
<rect x="253.79" y="338.2" width="5.8" height="87.7" fill="#eb4d5c"/>
<rect x="261.38" y="351.3" width="5.8" height="74.6" fill="#eb4d5c"/>
<rect x="268.96" y="358.0" width="5.8" height="67.9" fill="#eb4d5c"/>
<rect x="276.55" y="376.0" width="5.8" height="49.9" fill="#eb4d5c"/>
<rect x="284.13" y="399.4" width="5.8" height="26.5" fill="#eb4d5c"/>
<rect x="291.72" y="424.1" width="5.8" height="1.8" fill="#eb4d5c"/>
<rect x="299.80" y="426.4" width="4.8" height="11.8" fill="#fff" fill-opacity="0.5" stroke="#2bb68f" stroke-width="1" stroke-opacity="0.95"/>
<rect x="307.38" y="426.4" width="4.8" height="22.6" fill="#fff" fill-opacity="0.5" stroke="#2bb68f" stroke-width="1" stroke-opacity="0.95"/>
<rect x="314.97" y="426.4" width="4.8" height="24.9" fill="#fff" fill-opacity="0.5" stroke="#2bb68f" stroke-width="1" stroke-opacity="0.95"/>
<rect x="322.55" y="426.4" width="4.8" height="28.7" fill="#fff" fill-opacity="0.5" stroke="#2bb68f" stroke-width="1" stroke-opacity="0.95"/>
<rect x="330.14" y="426.4" width="4.8" height="33.4" fill="#fff" fill-opacity="0.5" stroke="#2bb68f" stroke-width="1" stroke-opacity="0.95"/>
<rect x="337.72" y="426.4" width="4.8" height="37.9" fill="#fff" fill-opacity="0.5" stroke="#2bb68f" stroke-width="1" stroke-opacity="0.95"/>
<rect x="345.30" y="426.4" width="4.8" height="37.9" fill="#fff" fill-opacity="0.5" stroke="#2bb68f" stroke-width="1" stroke-opacity="0.95"/>
<rect x="352.39" y="425.9" width="5.8" height="33.0" fill="#2bb68f"/>
<rect x="359.97" y="425.9" width="5.8" height="31.9" fill="#2bb68f"/>
<rect x="367.56" y="425.9" width="5.8" height="28.8" fill="#2bb68f"/>
<rect x="375.14" y="425.9" width="5.8" height="20.7" fill="#2bb68f"/>
<rect x="382.73" y="425.9" width="5.8" height="8.7" fill="#2bb68f"/>
<rect x="390.31" y="425.9" width="5.8" height="4.7" fill="#2bb68f"/>
<rect x="397.89" y="425.9" width="5.8" height="3.4" fill="#2bb68f"/>
<rect x="405.98" y="426.4" width="4.8" height="4.4" fill="#fff" fill-opacity="0.5" stroke="#2bb68f" stroke-width="1" stroke-opacity="0.95"/>
<rect x="413.56" y="426.4" width="4.8" height="4.2" fill="#fff" fill-opacity="0.5" stroke="#2bb68f" stroke-width="1" stroke-opacity="0.95"/>
<rect x="421.15" y="426.4" width="4.8" height="5.3" fill="#fff" fill-opacity="0.5" stroke="#2bb68f" stroke-width="1" stroke-opacity="0.95"/>
<rect x="428.73" y="426.4" width="4.8" height="11.5" fill="#fff" fill-opacity="0.5" stroke="#2bb68f" stroke-width="1" stroke-opacity="0.95"/>
<rect x="436.32" y="426.4" width="4.8" height="16.5" fill="#fff" fill-opacity="0.5" stroke="#2bb68f" stroke-width="1" stroke-opacity="0.95"/>
<rect x="443.90" y="426.4" width="4.8" height="19.6" fill="#fff" fill-opacity="0.5" stroke="#2bb68f" stroke-width="1" stroke-opacity="0.95"/>
<rect x="451.48" y="426.4" width="4.8" height="29.5" fill="#fff" fill-opacity="0.5" stroke="#2bb68f" stroke-width="1" stroke-opacity="0.95"/>
<rect x="458.57" y="425.9" width="5.8" height="26.5" fill="#2bb68f"/>
<rect x="466.65" y="426.4" width="4.8" height="26.6" fill="#fff" fill-opacity="0.5" stroke="#2bb68f" stroke-width="1" stroke-opacity="0.95"/>
<rect x="473.74" y="425.9" width="5.8" height="16.6" fill="#2bb68f"/>
<rect x="481.32" y="425.9" width="5.8" height="15.7" fill="#2bb68f"/>
<rect x="488.90" y="425.9" width="5.8" height="11.6" fill="#2bb68f"/>
<rect x="496.99" y="426.4" width="4.8" height="12.4" fill="#fff" fill-opacity="0.5" stroke="#2bb68f" stroke-width="1" stroke-opacity="0.95"/>
<rect x="504.57" y="426.4" width="4.8" height="15.6" fill="#fff" fill-opacity="0.5" stroke="#2bb68f" stroke-width="1" stroke-opacity="0.95"/>
<rect x="512.16" y="426.4" width="4.8" height="19.6" fill="#fff" fill-opacity="0.5" stroke="#2bb68f" stroke-width="1" stroke-opacity="0.95"/>
<rect x="519.24" y="425.9" width="5.8" height="17.5" fill="#2bb68f"/>
<rect x="526.83" y="425.9" width="5.8" height="7.6" fill="#2bb68f"/>
<rect x="534.41" y="425.9" width="5.8" height="1.8" fill="#2bb68f"/>
<rect x="542.49" y="399.7" width="4.8" height="25.7" fill="#fff" fill-opacity="0.5" stroke="#eb4d5c" stroke-width="1" stroke-opacity="0.95"/>
<rect x="550.08" y="382.9" width="4.8" height="42.5" fill="#fff" fill-opacity="0.5" stroke="#eb4d5c" stroke-width="1" stroke-opacity="0.95"/>
<rect x="557.66" y="374.8" width="4.8" height="50.6" fill="#fff" fill-opacity="0.5" stroke="#eb4d5c" stroke-width="1" stroke-opacity="0.95"/>
<rect x="564.75" y="376.1" width="5.8" height="49.8" fill="#eb4d5c"/>
<rect x="572.33" y="380.2" width="5.8" height="45.7" fill="#eb4d5c"/>
<rect x="579.92" y="389.2" width="5.8" height="36.7" fill="#eb4d5c"/>
<rect x="587.50" y="397.1" width="5.8" height="28.8" fill="#eb4d5c"/>
<rect x="595.08" y="409.3" width="5.8" height="16.6" fill="#eb4d5c"/>
<rect x="602.67" y="417.4" width="5.8" height="8.5" fill="#eb4d5c"/>
<rect x="610.25" y="424.1" width="5.8" height="1.8" fill="#eb4d5c"/>
<rect x="618.34" y="426.4" width="4.8" height="12.5" fill="#fff" fill-opacity="0.5" stroke="#2bb68f" stroke-width="1" stroke-opacity="0.95"/>
<rect x="625.92" y="426.4" width="4.8" height="29.7" fill="#fff" fill-opacity="0.5" stroke="#2bb68f" stroke-width="1" stroke-opacity="0.95"/>
<rect x="633.50" y="426.4" width="4.8" height="37.8" fill="#fff" fill-opacity="0.5" stroke="#2bb68f" stroke-width="1" stroke-opacity="0.95"/>
<rect x="641.09" y="426.4" width="4.8" height="39.6" fill="#fff" fill-opacity="0.5" stroke="#2bb68f" stroke-width="1" stroke-opacity="0.95"/>
<rect x="648.67" y="426.4" width="4.8" height="39.6" fill="#fff" fill-opacity="0.5" stroke="#2bb68f" stroke-width="1" stroke-opacity="0.95"/>
<rect x="656.26" y="426.4" width="4.8" height="42.9" fill="#fff" fill-opacity="0.5" stroke="#2bb68f" stroke-width="1" stroke-opacity="0.95"/>
<rect x="663.34" y="425.9" width="5.8" height="40.8" fill="#2bb68f"/>
<rect x="670.93" y="425.9" width="5.8" height="39.7" fill="#2bb68f"/>
<rect x="678.51" y="425.9" width="5.8" height="37.9" fill="#2bb68f"/>
<rect x="686.09" y="425.9" width="5.8" height="37.0" fill="#2bb68f"/>
<rect x="694.18" y="426.4" width="4.8" height="35.7" fill="#fff" fill-opacity="0.5" stroke="#2bb68f" stroke-width="1" stroke-opacity="0.95"/>
<rect x="701.76" y="426.4" width="4.8" height="38.4" fill="#fff" fill-opacity="0.5" stroke="#2bb68f" stroke-width="1" stroke-opacity="0.95"/>
<rect x="709.35" y="426.4" width="4.8" height="40.7" fill="#fff" fill-opacity="0.5" stroke="#2bb68f" stroke-width="1" stroke-opacity="0.95"/>
<rect x="716.43" y="425.9" width="5.8" height="34.9" fill="#2bb68f"/>
<rect x="724.01" y="425.9" width="5.8" height="25.8" fill="#2bb68f"/>
<rect x="731.60" y="425.9" width="5.8" height="19.9" fill="#2bb68f"/>
<rect x="739.68" y="426.4" width="4.8" height="24.5" fill="#fff" fill-opacity="0.5" stroke="#2bb68f" stroke-width="1" stroke-opacity="0.95"/>
<rect x="747.27" y="426.4" width="4.8" height="25.7" fill="#fff" fill-opacity="0.5" stroke="#2bb68f" stroke-width="1" stroke-opacity="0.95"/>
<rect x="754.85" y="426.4" width="4.8" height="31.5" fill="#fff" fill-opacity="0.5" stroke="#2bb68f" stroke-width="1" stroke-opacity="0.95"/>
<rect x="762.44" y="426.4" width="4.8" height="36.6" fill="#fff" fill-opacity="0.5" stroke="#2bb68f" stroke-width="1" stroke-opacity="0.95"/>
<rect x="769.52" y="425.9" width="5.8" height="31.8" fill="#2bb68f"/>
<rect x="777.10" y="425.9" width="5.8" height="25.8" fill="#2bb68f"/>
<rect x="784.69" y="425.9" width="5.8" height="24.8" fill="#2bb68f"/>
<rect x="792.27" y="425.9" width="5.8" height="13.7" fill="#2bb68f"/>
<rect x="799.86" y="425.9" width="5.8" height="1.8" fill="#2bb68f"/>
<rect x="807.94" y="419.5" width="4.8" height="5.9" fill="#fff" fill-opacity="0.5" stroke="#eb4d5c" stroke-width="1" stroke-opacity="0.95"/>
<rect x="815.53" y="413.8" width="4.8" height="11.6" fill="#fff" fill-opacity="0.5" stroke="#eb4d5c" stroke-width="1" stroke-opacity="0.95"/>
<rect x="823.11" y="408.6" width="4.8" height="16.8" fill="#fff" fill-opacity="0.5" stroke="#eb4d5c" stroke-width="1" stroke-opacity="0.95"/>
<rect x="830.69" y="404.8" width="4.8" height="20.6" fill="#fff" fill-opacity="0.5" stroke="#eb4d5c" stroke-width="1" stroke-opacity="0.95"/>
<rect x="838.28" y="397.8" width="4.8" height="27.6" fill="#fff" fill-opacity="0.5" stroke="#eb4d5c" stroke-width="1" stroke-opacity="0.95"/>
<rect x="845.36" y="397.0" width="5.8" height="28.9" fill="#eb4d5c"/>
<rect x="852.95" y="401.1" width="5.8" height="24.8" fill="#eb4d5c"/>
<rect x="860.53" y="403.0" width="5.8" height="22.9" fill="#eb4d5c"/>
<rect x="868.11" y="406.0" width="5.8" height="19.9" fill="#eb4d5c"/>
<rect x="875.70" y="408.1" width="5.8" height="17.8" fill="#eb4d5c"/>
<rect x="883.28" y="408.9" width="5.8" height="17.0" fill="#eb4d5c"/>
<rect x="891.37" y="407.8" width="4.8" height="17.6" fill="#fff" fill-opacity="0.5" stroke="#eb4d5c" stroke-width="1" stroke-opacity="0.95"/>
<rect x="898.45" y="408.9" width="5.8" height="17.0" fill="#eb4d5c"/>
<rect x="906.04" y="413.0" width="5.8" height="12.9" fill="#eb4d5c"/>
<rect x="913.62" y="416.1" width="5.8" height="9.8" fill="#eb4d5c"/>
<rect x="921.20" y="420.2" width="5.8" height="5.7" fill="#eb4d5c"/>
<rect x="928.79" y="424.1" width="5.8" height="1.8" fill="#eb4d5c"/>
<rect x="936.37" y="424.1" width="5.8" height="1.8" fill="#eb4d5c"/>
<rect x="944.46" y="418.7" width="4.8" height="6.7" fill="#fff" fill-opacity="0.5" stroke="#eb4d5c" stroke-width="1" stroke-opacity="0.95"/>
<rect x="952.04" y="418.0" width="4.8" height="7.4" fill="#fff" fill-opacity="0.5" stroke="#eb4d5c" stroke-width="1" stroke-opacity="0.95"/>
<rect x="959.62" y="403.8" width="4.8" height="21.6" fill="#fff" fill-opacity="0.5" stroke="#eb4d5c" stroke-width="1" stroke-opacity="0.95"/>
<rect x="967.21" y="386.9" width="4.8" height="38.5" fill="#fff" fill-opacity="0.5" stroke="#eb4d5c" stroke-width="1" stroke-opacity="0.95"/>
<rect x="974.79" y="379.9" width="4.8" height="45.5" fill="#fff" fill-opacity="0.5" stroke="#eb4d5c" stroke-width="1" stroke-opacity="0.95"/>
<rect x="982.38" y="378.9" width="4.8" height="46.5" fill="#fff" fill-opacity="0.5" stroke="#eb4d5c" stroke-width="1" stroke-opacity="0.95"/>
<rect x="989.96" y="378.0" width="4.8" height="47.4" fill="#fff" fill-opacity="0.5" stroke="#eb4d5c" stroke-width="1" stroke-opacity="0.95"/>
<rect x="997.55" y="375.0" width="4.8" height="50.4" fill="#fff" fill-opacity="0.5" stroke="#eb4d5c" stroke-width="1" stroke-opacity="0.95"/>
<rect x="1004.63" y="379.1" width="5.8" height="46.8" fill="#eb4d5c"/>
<rect x="1012.21" y="386.2" width="5.8" height="39.7" fill="#eb4d5c"/>
<rect x="1019.80" y="394.2" width="5.8" height="31.7" fill="#eb4d5c"/>
<rect x="1027.38" y="400.2" width="5.8" height="25.7" fill="#eb4d5c"/>
<rect x="1034.97" y="415.2" width="5.8" height="10.7" fill="#eb4d5c"/>
<rect x="1042.55" y="425.9" width="5.8" height="1.8" fill="#2bb68f"/>
<rect x="1050.64" y="426.4" width="4.8" height="17.8" fill="#fff" fill-opacity="0.5" stroke="#2bb68f" stroke-width="1" stroke-opacity="0.95"/>
<rect x="1058.22" y="426.4" width="4.8" height="25.7" fill="#fff" fill-opacity="0.5" stroke="#2bb68f" stroke-width="1" stroke-opacity="0.95"/>
<rect x="1065.80" y="426.4" width="4.8" height="28.5" fill="#fff" fill-opacity="0.5" stroke="#2bb68f" stroke-width="1" stroke-opacity="0.95"/>
</g>
<polyline points="-2.0,394.6 0.0,394.6 6.9,394.6 14.6,394.2 22.4,391.7 30.1,388.2 37.0,386.5 44.7,386.2 51.6,388.2 59.3,392.2 67.1,396.0 74.8,400.6 82.5,406.3 90.3,412.3 98.0,418.0 104.9,422.6 112.6,426.9 120.4,430.3 128.1,433.8 135.9,436.7 142.7,439.3 150.5,441.5 158.2,443.2 166.0,444.6 172.8,446.2 180.6,446.5 188.3,446.4 196.2,443.8 204.1,440.4 212.0,435.9 218.7,429.2 226.6,417.9 233.3,404.4 241.2,390.9 249.1,378.6 256.9,366.2 264.8,356.1 272.7,348.2 280.5,343.7 288.4,341.5 295.2,341.5 303.0,343.3 310.9,346.0 318.8,349.8 325.5,352.7 333.4,357.9 341.3,362.4 348.0,366.7 355.9,370.7 363.7,374.7 370.5,377.9 378.3,380.4 385.5,381.6 392.2,381.7 400.3,382.1 407.6,382.4 415.7,383.3 422.9,383.9 431.0,385.3 439.2,387.5 446.4,390.6 453.6,393.8 461.7,397.4 469.0,400.5 477.1,402.9 484.3,404.7 492.4,406.5 499.7,407.7 506.9,409.7 515.0,412.4 522.2,414.2 529.5,415.5 537.6,415.1 544.8,411.9 552.0,406.1 560.2,400.1 567.4,393.8 574.6,387.9 582.7,383.2 592.2,379.1 599.4,377.3 606.7,376.4 613.9,376.4 621.1,378.0 628.3,381.6 635.6,386.3 642.8,391.2 650.0,396.1 657.2,402.0 664.5,407.4 671.7,411.0 678.9,416.1 686.1,420.6 693.3,424.9 700.6,429.1 707.8,433.6 713.2,436.3 720.4,439.9 727.6,442.6 734.0,444.8 742.1,447.5 749.3,450.2 756.5,453.5 765.6,459.3 772.8,464.0 780.0,467.0 787.2,470.1 794.8,472.5 803.0,472.5 812.8,470.6 822.6,467.8 832.4,464.5 842.2,460.8 852.0,455.9 861.8,451.8 871.6,447.7 881.4,444.9 891.2,442.3 901.0,440.0 910.8,438.2 920.6,437.1 930.4,436.3 940.2,436.3 948.4,435.1 955.6,433.4 961.2,431.3 966.9,427.5 972.5,423.7 978.1,419.5 985.1,413.4 992.1,407.4 999.2,401.5 1006.2,396.2 1013.2,391.7 1021.6,387.2 1030.0,383.3 1037.1,382.3 1045.5,382.3 1052.5,384.2 1060.9,388.2 1068.7,391.3" fill="none" stroke="#ffb32a" stroke-width="1.1" stroke-linejoin="round"/>
<polyline points="-2.0,395.6 0.0,395.6 6.9,395.6 14.6,393.4 22.4,381.3 30.1,376.2 37.0,375.3 44.7,388.2 51.6,397.7 59.3,406.3 67.1,413.2 74.8,420.0 82.5,426.9 90.3,434.6 98.0,441.2 104.9,442.9 112.6,444.5 120.4,444.6 128.1,446.7 135.9,447.5 142.7,448.8 150.5,449.8 158.2,451.0 166.0,451.3 172.8,452.4 180.6,447.9 188.3,442.4 196.2,438.1 204.1,429.2 212.0,417.9 218.7,395.4 226.6,370.7 233.3,356.1 241.2,343.7 249.1,333.6 256.9,325.7 264.8,321.7 272.7,317.2 280.5,321.2 288.4,330.2 295.2,340.3 303.0,350.5 310.9,357.9 318.8,362.8 325.5,368.5 333.4,374.7 341.3,380.4 348.0,384.9 355.9,386.4 363.7,389.1 370.5,391.6 378.3,390.3 385.5,386.4 392.2,383.5 400.3,383.3 407.6,385.7 415.7,386.6 422.9,387.9 431.0,392.0 439.2,396.5 446.4,400.5 453.6,408.8 461.7,410.6 469.0,414.6 477.1,411.5 484.3,412.8 492.4,411.5 499.7,414.6 506.9,417.3 515.0,422.4 522.2,422.4 529.5,419.1 537.6,415.5 544.8,399.8 552.0,384.8 560.2,374.3 567.4,369.8 574.6,365.5 582.7,365.2 592.2,367.7 599.4,370.1 606.7,372.6 613.9,375.5 621.1,383.1 628.3,395.7 635.6,403.8 642.8,410.1 650.0,414.7 657.2,420.6 664.5,425.9 671.7,429.6 678.9,433.3 686.1,436.9 693.3,441.2 700.6,447.2 707.8,453.5 713.2,456.5 720.4,456.5 727.6,455.3 734.0,455.3 742.1,460.7 749.3,464.0 756.5,470.6 765.6,479.1 772.8,480.0 780.0,480.0 787.5,482.8 794.8,479.2 803.0,473.0 812.8,465.3 822.6,459.1 832.4,453.4 842.2,446.1 852.0,442.3 861.8,439.5 871.6,439.5 881.4,437.1 891.2,434.6 901.0,431.4 910.8,431.4 920.6,432.7 930.4,435.8 940.2,435.1 948.4,431.4 955.6,428.2 961.2,419.8 966.9,408.5 972.5,401.5 978.1,395.9 985.1,390.3 992.1,384.0 999.2,376.9 1006.2,372.7 1013.2,371.3 1021.6,371.3 1030.0,371.3 1037.1,376.2 1045.5,384.7 1052.5,393.1 1060.9,401.5 1068.7,406.4" fill="none" stroke="#48d1b8" stroke-width="1.1" stroke-linejoin="round"/>
<path d="M6.7,586.8V593.8M2.8,593.8H6.7M6.7,589.3H10.6M14.3,578.9V590.4M10.4,589.3H14.3M14.3,586.0H18.2M21.9,558.9V586.0M18.0,586.0H21.9M21.9,564.4H25.8M59.8,600.4V605.1M55.9,603.8H59.8M59.8,601.5H63.7M67.4,600.1V603.4M63.5,602.4H67.4M67.4,601.2H71.3M105.3,606.2V614.6M101.4,613.8H105.3M105.3,607.2H109.2M120.5,601.3V610.6M116.6,609.4H120.5M120.5,603.8H124.4M135.6,604.7V612.8M131.7,611.4H135.6M135.6,607.2H139.5M166.0,609.7V615.7M162.1,612.8H166.0M166.0,612.4H169.9M181.2,601.9V617.2M177.3,613.0H181.2M181.2,602.5H185.1M196.3,591.6V608.0M192.4,604.3H196.3M196.3,598.6H200.2M203.9,582.0V601.0M200.0,598.6H203.9M203.9,584.6H207.8M219.1,533.9V585.6M215.2,585.6H219.1M219.1,544.3H223.0M249.4,536.8V549.5M245.5,549.5H249.4M249.4,541.7H253.3M257.0,534.4V542.8M253.1,541.7H257.0M257.0,538.2H260.9M272.2,534.7V544.8M268.3,543.4H272.2M272.2,536.6H276.1M302.5,561.0V567.4M298.6,566.1H302.5M302.5,561.6H306.4M317.7,554.3V563.0M313.8,562.7H317.7M317.7,557.0H321.6M348.0,557.7V565.5M344.1,564.8H348.0M348.0,563.2H351.9M355.6,555.2V565.9M351.7,563.2H355.6M355.6,556.9H359.5M370.8,551.8V562.8M366.9,560.2H370.8M370.8,559.0H374.7M378.3,547.9V559.0M374.4,559.0H378.3M378.3,552.1H382.2M385.9,538.3V553.2M382.0,552.1H385.9M385.9,542.3H389.8M416.3,544.4V551.6M412.4,551.6H416.3M416.3,549.3H420.2M461.8,551.9V576.6M457.9,568.2H461.8M461.8,556.8H465.7M476.9,547.1V563.1M473.0,561.3H476.9M476.9,548.7H480.8M492.1,549.9V555.5M488.2,555.5H492.1M492.1,552.7H496.0M522.4,554.8V564.1M518.5,563.5H522.4M522.4,557.7H526.3M530.0,541.0V557.7M526.1,557.7H530.0M530.0,548.4H533.9M545.2,517.6V550.5M541.3,550.5H545.2M545.2,519.6H549.1M552.8,511.5V523.4M548.9,519.6H552.8M552.8,517.6H556.7M575.5,519.6V526.6M571.6,523.1H575.5M575.5,521.8H579.4M590.7,522.4V529.5M586.8,526.6H590.7M590.7,525.5H594.6M605.9,528.0V533.4M602.0,531.7H605.9M605.9,529.7H609.8M636.2,546.6V553.9M632.3,551.1H636.2M636.2,550.1H640.1M643.8,544.4V552.3M639.9,550.1H643.8M643.8,547.3H647.7M666.5,550.1V553.4M662.6,553.4H666.5M666.5,550.1H670.4M719.6,559.0V568.2M715.7,567.6H719.6M719.6,559.7H723.5M727.2,551.9V561.5M723.3,559.7H727.2M727.2,556.3H731.1M750.0,568.5V575.1M746.1,572.3H750.0M750.0,571.4H753.9M772.7,572.7V585.7M768.8,585.0H772.7M772.7,576.0H776.6M780.3,574.6V581.0M776.4,576.0H780.3M780.3,575.4H784.2M795.5,558.3V582.4M791.6,582.4H795.5M795.5,571.9H799.4M803.1,565.7V574.4M799.2,571.9H803.1M803.1,567.3H807.0M818.2,560.4V570.2M814.3,568.5H818.2M818.2,566.6H822.1M825.8,562.3V578.9M821.9,566.6H825.8M825.8,566.0H829.7M833.4,561.8V571.7M829.5,566.0H833.4M833.4,564.4H837.3M841.0,554.0V564.4M837.1,564.4H841.0M841.0,559.0H844.9M863.7,560.3V565.7M859.8,565.7H863.7M863.7,564.9H867.6M878.9,562.7V569.1M875.0,566.8H878.9M878.9,566.2H882.8M886.5,559.9V567.6M882.6,566.2H886.5M886.5,563.6H890.4M894.1,555.8V564.5M890.2,563.6H894.1M894.1,561.1H898.0M939.6,560.8V572.5M935.7,571.7H939.6M939.6,565.7H943.5M947.2,559.4V570.4M943.3,565.7H947.2M947.2,560.3H951.1M962.3,540.4V562.4M958.4,562.4H962.3M962.3,546.4H966.2M969.9,527.3V548.7M966.0,546.4H969.9M969.9,534.5H973.8M992.7,532.7V538.6M988.8,537.8H992.7M992.7,533.9H996.6M1000.2,523.8V533.9M996.3,533.9H1000.2M1000.2,526.7H1004.1M1030.6,530.5V536.6M1026.7,534.0H1030.6M1030.6,531.9H1034.5M1060.9,550.7V556.8M1057.0,555.9H1060.9M1060.9,552.1H1064.8M1068.5,548.4V552.1M1064.6,552.1H1068.5M1068.5,551.3H1072.4" fill="none" stroke="#e8465a" stroke-width="1.25"/>
<path d="M-0.9,588.6V594.6M-4.8,589.3H-0.9M-0.9,593.8H3.0M29.5,563.8V575.0M25.6,564.4H29.5M29.5,571.0H33.4M37.1,567.2V579.4M33.2,571.0H37.1M37.1,576.6H41.0M44.6,574.6V604.6M40.7,576.6H44.6M44.6,601.5H48.5M52.2,596.0V605.6M48.3,601.5H52.2M52.2,603.8H56.1M75.0,600.9V603.8M71.1,601.2H75.0M75.0,603.5H78.9M82.6,601.5V610.5M78.7,603.5H82.6M82.6,606.7H86.5M90.1,605.1V613.6M86.2,606.7H90.1M90.1,613.6H94.0M97.7,610.3V617.9M93.8,613.0H97.7M97.7,613.8H101.6M112.9,605.3V609.4M109.0,607.2H112.9M112.9,609.4H116.8M128.1,603.8V613.9M124.2,603.8H128.1M128.1,611.4H132.0M143.2,606.0V611.6M139.3,607.2H143.2M143.2,610.6H147.1M150.8,608.4V614.6M146.9,610.6H150.8M150.8,612.0H154.7M158.4,606.9V614.4M154.5,612.0H158.4M158.4,612.8H162.3M173.6,611.4V615.9M169.7,612.4H173.6M173.6,613.0H177.5M188.7,594.4V608.2M184.8,602.5H188.7M188.7,604.3H192.6M211.5,582.1V590.3M207.6,584.6H211.5M211.5,585.6H215.4M226.7,542.0V549.7M222.8,544.3H226.7M226.7,545.6H230.6M234.2,541.0V547.1M230.3,545.6H234.2M234.2,546.1H238.1M241.8,544.3V549.5M237.9,546.1H241.8M241.8,549.5H245.7M264.6,537.5V545.1M260.7,538.2H264.6M264.6,543.4H268.5M279.7,526.9V558.1M275.8,536.6H279.7M279.7,546.8H283.6M287.3,543.8V561.4M283.4,546.8H287.3M287.3,556.5H291.2M294.9,554.0V569.3M291.0,556.5H294.9M294.9,566.1H298.8M310.1,558.2V566.2M306.2,561.6H310.1M310.1,562.7H314.0M325.3,556.1V563.9M321.4,557.0H325.3M325.3,560.2H329.2M332.8,556.3V565.1M328.9,560.2H332.8M332.8,563.4H336.7M340.4,561.6V567.5M336.5,563.4H340.4M340.4,564.8H344.3M363.2,555.6V564.0M359.3,556.9H363.2M363.2,561.4H367.1M393.5,541.8V552.4M389.6,542.3H393.5M393.5,548.3H397.4M401.1,540.1V551.8M397.2,547.2H401.1M401.1,548.3H405.0M408.7,546.6V553.8M404.8,548.3H408.7M408.7,551.6H412.6M423.8,546.6V552.6M419.9,549.3H423.8M423.8,549.8H427.7M431.4,548.0V557.4M427.5,549.8H431.4M431.4,555.1H435.3M439.0,552.6V557.7M435.1,555.1H439.0M439.0,556.8H442.9M446.6,555.5V559.6M442.7,556.8H446.6M446.6,558.0H450.5M454.2,550.6V574.6M450.3,558.0H454.2M454.2,568.2H458.1M469.4,552.1V567.2M465.5,556.8H469.4M469.4,561.3H473.3M484.5,546.3V557.4M480.6,548.7H484.5M484.5,555.5H488.4M499.7,551.4V560.8M495.8,552.7H499.7M499.7,558.0H503.6M507.3,556.5V561.5M503.4,558.0H507.3M507.3,561.3H511.2M514.9,558.0V564.9M511.0,561.3H514.9M514.9,563.5H518.8M537.6,547.6V557.2M533.7,548.4H537.6M537.6,550.5H541.5M560.4,508.6V525.5M556.5,517.6H560.4M560.4,518.6H564.3M567.9,516.8V527.1M564.0,518.6H567.9M567.9,523.1H571.8M583.1,516.8V527.5M579.2,521.8H583.1M583.1,526.6H587.0M598.3,523.8V533.6M594.4,525.5H598.3M598.3,531.7H602.2M613.5,528.5V532.2M609.6,529.7H613.5M613.5,532.2H617.4M621.0,531.2V545.7M617.1,532.2H621.0M621.0,542.7H624.9M628.6,542.7V554.1M624.7,542.7H628.6M628.6,551.1H632.5M651.4,542.4V550.8M647.5,547.3H651.4M651.4,548.3H655.3M659.0,546.8V556.2M655.1,548.3H659.0M659.0,553.4H662.9M674.1,548.3V552.5M670.2,550.1H674.1M674.1,552.5H678.0M681.7,550.1V555.1M677.8,552.5H681.7M681.7,553.4H685.6M689.3,552.3V558.7M685.4,553.4H689.3M689.3,555.9H693.2M696.9,553.9V562.3M693.0,555.9H696.9M696.9,558.7H700.8M704.5,558.7V573.3M700.6,558.7H704.5M704.5,565.5H708.4M712.0,563.3V568.3M708.1,565.5H712.0M712.0,567.6H715.9M734.8,555.1V565.1M730.9,556.3H734.8M734.8,559.4H738.7M742.4,559.4V573.0M738.5,559.4H742.4M742.4,572.3H746.3M757.6,570.6V580.8M753.7,571.4H757.6M757.6,580.3H761.5M765.1,579.5V588.4M761.2,580.3H765.1M765.1,585.0H769.0M787.9,575.4V584.4M784.0,575.4H787.9M787.9,582.4H791.8M810.6,562.9V570.9M806.7,567.3H810.6M810.6,568.5H814.5M848.6,552.6V565.6M844.7,559.0H848.6M848.6,561.2H852.5M856.1,559.6V567.9M852.2,561.2H856.1M856.1,565.2H860.0M871.3,564.9V570.9M867.4,564.9H871.3M871.3,566.8H875.2M901.7,556.5V564.9M897.8,561.1H901.7M901.7,562.9H905.6M909.2,561.1V573.0M905.3,562.9H909.2M909.2,566.2H913.1M916.8,560.1V574.3M912.9,566.2H916.8M916.8,567.0H920.7M924.4,561.1V577.2M920.5,567.0H924.4M924.4,568.8H928.3M932.0,559.0V575.7M928.1,568.8H932.0M932.0,571.7H935.9M954.7,558.9V565.5M950.8,560.3H954.7M954.7,562.4H958.6M977.5,533.9V539.2M973.6,534.5H977.5M977.5,537.2H981.4M985.1,535.1V539.4M981.2,537.2H985.1M985.1,537.8H989.0M1007.8,524.1V536.9M1003.9,526.7H1007.8M1007.8,532.1H1011.7M1015.4,527.9V538.8M1011.5,532.1H1015.4M1015.4,533.4H1019.3M1023.0,530.2V537.2M1019.1,533.4H1023.0M1023.0,534.0H1026.9M1038.2,530.9V543.4M1034.3,531.9H1038.2M1038.2,543.4H1042.1M1045.8,539.4V555.0M1041.9,543.4H1045.8M1045.8,546.1H1049.7M1053.3,546.1V558.3M1049.4,546.1H1053.3M1053.3,555.9H1057.2" fill="none" stroke="#2aa88a" stroke-width="1.25"/>
<polyline points="-2.0,618.0 0.0,617.6 6.5,615.9 14.2,614.3 21.8,615.4 29.4,614.1 37.0,610.4 44.6,609.3 52.3,609.3 59.9,609.8 67.5,610.4 75.1,611.5 82.8,613.7 90.4,616.5 98.0,619.1 105.6,620.7 113.2,622.4 120.9,623.0 128.5,624.6 136.1,625.7 143.7,626.8 151.4,628.3 159.0,629.6 166.6,630.5 174.2,626.8 181.8,621.3 188.4,616.5 196.0,616.3 203.6,619.8 211.2,622.8 218.9,632.6 226.5,639.8 230.0,642.4 237.6,643.7 245.2,644.6 252.9,644.8 260.5,644.2 268.1,643.1 275.7,640.5 283.4,636.6 291.0,633.3 298.6,628.9 306.2,622.8 313.8,615.9 321.5,608.2 329.1,601.1 336.7,594.1 344.3,587.6 352.0,581.0 359.6,574.5 363.3,572.3 374.8,572.3 397.7,572.3 405.3,571.9 412.9,571.2 420.5,569.7 428.2,569.5 435.8,569.5 443.4,569.0 451.0,568.4 458.7,568.4 467.6,569.5 475.2,568.6 490.5,566.9 499.2,565.3 505.7,566.4 537.3,566.4 544.9,571.2 552.6,575.6 560.2,578.2 567.8,579.9 575.4,580.4 583.0,580.4 590.7,579.5 598.3,578.4 605.9,574.9 613.5,573.0 621.1,570.6 628.8,571.7 636.4,570.6 644.0,569.5 651.6,568.4 659.3,566.4 666.9,564.7 674.5,563.6 682.1,563.6 689.7,564.8 700.9,568.0 711.8,571.2 722.7,572.3 733.6,572.3 744.4,574.5 755.3,577.3 766.2,579.9 777.1,582.8 788.0,586.5 798.9,587.1 809.8,586.0 820.7,585.4 831.6,584.3 864.2,584.3 875.1,583.9 886.0,583.4 896.9,582.8 909.1,581.8 918.3,578.1 927.4,575.9 932.9,575.4 939.3,571.7 946.6,571.3 953.9,570.4 961.2,573.9 969.4,578.7 976.7,580.3 984.0,581.4 991.3,582.7 999.5,584.5 1007.8,584.5 1015.1,583.6 1022.4,582.7 1029.7,581.4 1038.8,579.4 1046.1,578.1 1053.4,577.2 1060.7,575.4 1068.0,573.2" fill="none" stroke="#e858c4" stroke-width="1.1" stroke-linejoin="round"/>
<polyline points="-2.0,582.0 0.0,581.5 6.5,580.4 14.2,579.3 21.8,573.8 29.4,570.6 37.0,570.6 44.6,571.7 52.3,571.7 59.9,571.7 67.5,571.7 75.1,571.2 82.8,570.6 90.4,570.1 98.0,569.5 105.6,570.1 113.2,570.3 120.9,570.3 128.5,570.6 136.1,570.8 143.7,571.2 151.4,571.7 159.0,572.7 166.6,574.5 174.2,583.2 181.8,591.3 188.4,598.0 196.0,598.0 203.6,594.5 211.2,589.1 218.9,572.3 226.5,560.3 230.0,556.0 237.6,546.6 245.2,538.6 252.9,530.9 260.5,524.4 268.1,519.0 275.7,515.7 283.4,513.9 291.0,513.3 298.6,513.3 306.2,513.9 313.8,515.0 321.5,516.8 329.1,519.4 336.7,522.7 344.3,526.1 352.0,529.8 359.6,533.1 367.2,534.9 374.8,535.7 382.4,535.9 390.1,535.3 397.7,535.7 405.3,536.8 412.9,538.6 420.5,541.2 428.2,543.3 435.8,543.3 443.4,544.0 451.0,544.0 458.7,543.3 475.2,542.9 490.5,542.9 505.7,543.3 521.0,542.5 529.7,541.8 537.3,543.3 544.9,535.3 552.6,526.6 560.2,520.7 567.8,516.8 575.4,513.9 583.0,511.8 590.7,509.6 598.3,508.7 605.9,508.1 613.5,507.6 621.1,507.4 628.8,507.4 636.4,508.1 644.0,508.5 651.6,508.5 659.3,509.2 666.9,510.2 674.5,511.3 682.1,510.7 689.7,510.5 700.9,513.1 711.8,516.3 722.7,521.1 733.6,525.9 744.4,530.3 755.3,533.8 766.2,537.5 777.1,539.0 788.0,540.7 798.9,543.6 809.8,546.2 820.7,549.4 831.6,552.3 842.4,552.9 853.3,553.4 864.2,553.4 875.1,554.9 886.0,556.0 896.9,555.3 909.1,555.3 918.3,556.7 927.4,557.5 932.9,557.5 939.3,560.2 946.6,559.5 953.9,559.3 961.2,554.4 969.4,547.1 976.7,542.5 984.0,538.8 991.3,535.2 999.5,528.8 1007.8,525.1 1015.1,522.4 1022.4,520.6 1029.7,518.4 1038.8,518.4 1060.7,518.4 1068.0,519.3" fill="none" stroke="#f7a935" stroke-width="1.1" stroke-linejoin="round"/>
<polyline points="-2.0,600.0 0.0,599.5 6.5,598.4 14.2,597.4 21.8,594.1 29.4,591.9 37.0,590.4 44.6,590.2 52.3,590.2 59.9,590.4 67.5,590.8 75.1,591.9 82.8,592.6 90.4,593.6 98.0,594.5 105.6,595.6 113.2,596.3 120.9,596.9 128.5,597.4 136.1,598.0 143.7,599.1 151.4,600.2 159.0,601.7 166.6,602.8 174.2,604.5 181.8,606.1 188.4,607.1 196.0,607.1 203.6,606.1 211.2,604.5 218.9,602.1 226.5,599.5 230.0,599.1 237.6,595.6 245.2,591.9 252.9,588.6 260.5,585.4 268.1,582.1 275.7,579.3 283.4,576.2 291.0,573.4 298.6,570.6 306.2,568.0 313.8,565.3 321.5,562.5 329.1,559.9 336.7,558.2 344.3,556.6 352.0,554.9 359.6,553.8 367.2,553.4 374.8,553.8 382.4,553.8 390.1,553.4 397.7,553.8 405.3,554.9 412.9,555.5 420.5,556.0 428.2,556.4 435.8,556.4 443.4,556.6 451.0,557.1 458.7,557.1 475.2,556.0 490.5,554.9 505.7,554.5 521.0,554.5 529.7,553.8 537.3,555.3 544.9,553.4 552.6,551.6 560.2,550.1 567.8,548.8 575.4,547.3 583.0,546.2 590.7,544.7 598.3,543.3 605.9,541.8 613.5,540.7 621.1,539.6 628.8,539.2 636.4,539.2 644.0,538.6 651.6,538.1 659.3,537.9 666.9,537.5 674.5,537.0 682.1,537.0 689.7,537.5 700.9,540.7 711.8,544.0 722.7,547.3 733.6,549.4 744.4,552.1 755.3,555.5 766.2,559.2 777.1,561.0 788.0,563.6 798.9,565.3 809.8,566.9 820.7,568.0 831.6,568.6 864.2,568.6 875.1,569.5 896.9,569.5 900.0,568.6 909.1,568.1 918.3,567.7 927.4,567.7 932.9,567.5 939.3,566.2 946.6,565.3 953.9,565.3 961.2,564.4 969.4,562.6 976.7,560.8 984.0,559.3 991.3,557.6 999.5,555.8 1007.8,554.4 1015.1,552.5 1022.4,551.1 1029.7,549.8 1038.8,548.9 1046.1,548.0 1053.4,547.6 1060.7,547.4 1068.0,546.5" fill="none" stroke="#4fc3c3" stroke-width="1.1" stroke-linejoin="round"/>
</g>
<g shape-rendering="crispEdges" fill="#eceef3">
<rect x="1094" y="0" width="1" height="688"/>
<rect x="0" y="297" width="1158" height="1"/>
<rect x="0" y="487" width="1158" height="1"/>
<rect x="0" y="688" width="1158" height="1"/>
<rect x="1160" y="0" width="3" height="712" fill="#f3f3f3"/>
<rect x="1160" y="0" width="1" height="712" fill="#ebebeb"/>
</g>
<g font-family="'Liberation Sans',sans-serif" font-size="12">
<text x="501" y="31" fill="#131722">2463.86</text>
<path d="M549.5,28.5H556.6M553.6,25.8L556.7,28.5L553.6,31.2" stroke="#131722" stroke-width="1.3" fill="none"/>
<text x="1126" y="33.8" fill="#787e8c" text-anchor="middle">2459.99</text>
<text x="1126" y="83.8" fill="#787e8c" text-anchor="middle">2365.18</text>
<text x="1126" y="133.8" fill="#787e8c" text-anchor="middle">2273.91</text>
<text x="1126" y="183.8" fill="#787e8c" text-anchor="middle">2186.22</text>
<text x="1126" y="233.8" fill="#787e8c" text-anchor="middle">2101.91</text>
<text x="1126" y="283.8" fill="#787e8c" text-anchor="middle">2020.85</text>
<text x="1126" y="334.8" fill="#787e8c" text-anchor="middle">40.00</text>
<text x="1126" y="381.8" fill="#787e8c" text-anchor="middle">20.00</text>
<text x="1126" y="430.3" fill="#787e8c" text-anchor="middle">0.00</text>
<text x="1126" y="476.8" fill="#787e8c" text-anchor="middle">-20.00</text>
<text x="1126" y="498.8" fill="#787e8c" text-anchor="middle">2500.00</text>
<text x="1126" y="537.1999999999999" fill="#787e8c" text-anchor="middle">2400.00</text>
<text x="1126" y="573.8" fill="#787e8c" text-anchor="middle">2300.00</text>
<text x="1126" y="612.1999999999999" fill="#787e8c" text-anchor="middle">2200.00</text>
<text x="1126" y="648.8" fill="#787e8c" text-anchor="middle">2100.00</text>
<rect x="1094" y="78" width="64" height="20" fill="#eb4d5c" shape-rendering="crispEdges"/>
<rect x="1094" y="88" width="5" height="1" fill="#fff" shape-rendering="crispEdges"/>
<text x="1126" y="92.3" fill="#fff" font-weight="bold" text-anchor="middle" textLength="43" lengthAdjust="spacingAndGlyphs">2349.66</text>
</g>
<g font-family="'Liberation Sans','Noto Sans CJK SC',sans-serif" font-size="12" fill="#787e8c" text-anchor="middle">
<text x="14.0" y="702.6">4月 12</text>
<text x="105.0" y="702.6">4月 13</text>
<text x="196.0" y="702.6">4月 14</text>
<text x="287.0" y="702.6">4月 15</text>
<text x="378.0" y="702.6">4月 16</text>
<text x="469.0" y="702.6">4月 17</text>
<text x="560.0" y="702.6">4月 18</text>
<text x="651.0" y="702.6">4月 19</text>
<text x="742.0" y="702.6">4月 20</text>
<text x="833.0" y="702.6">4月 21</text>
<text x="924.0" y="702.6">4月 22</text>
<text x="1015.0" y="702.6">4月 23</text>
</g>
<g font-family="'Liberation Sans','Noto Sans CJK SC',sans-serif" font-size="13.5" fill="#6b6b6b">
<text x="1118.5" y="706">筹</text><text x="1140" y="706">爆</text>
</g>
<text x="554.5" y="674" font-family="'Liberation Sans','Noto Sans CJK SC',sans-serif" font-size="24" fill="#ff4040"><tspan font-size="25.8" dy="-0.9">2</tspan><tspan dy="0.9" dx="-0.6">小时</tspan></text>
<rect x="1156" y="316" width="7" height="38" rx="2" fill="#d8d8d8"/>
<path d="M1158,335l4,-4.5v9z" fill="#6a6a6a"/>
<circle cx="1173.9" cy="616.2" r="19.6" fill="#000" fill-opacity="0.05"/>
<circle cx="1173.9" cy="616" r="18.8" fill="#000" fill-opacity="0.07"/>
<circle cx="1173.9" cy="615.8" r="18" fill="#fff"/>
<circle cx="1173.9" cy="615.8" r="14.4" fill="#cfe2fb"/>
</svg>
</body></html>
